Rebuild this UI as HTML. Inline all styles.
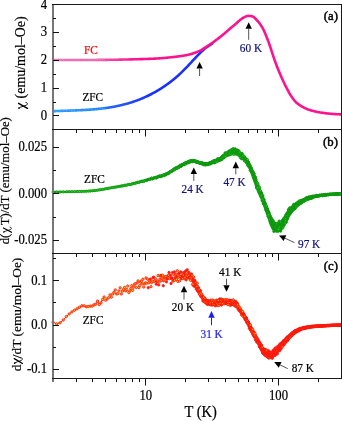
<!DOCTYPE html><html><head><meta charset="utf-8"><style>html,body{margin:0;padding:0;background:#fff;}body{width:342px;height:421px;overflow:hidden;font-family:"Liberation Serif",serif;}svg{display:block;will-change:transform}</style></head><body><svg width="342" height="421" viewBox="0 0 342 421" font-family='"Liberation Serif", serif'><rect width="342" height="421" fill="#fff"/><defs><linearGradient id="gfc" gradientUnits="userSpaceOnUse" x1="53" y1="0" x2="140" y2="0"><stop offset="0" stop-color="#f070b8"/><stop offset="0.45" stop-color="#f85aae"/><stop offset="1" stop-color="#ff1290"/></linearGradient><linearGradient id="gzfc" gradientUnits="userSpaceOnUse" x1="53" y1="0" x2="150" y2="0"><stop offset="0" stop-color="#3a9cff"/><stop offset="0.5" stop-color="#2a70ff"/><stop offset="1" stop-color="#1a30ff"/></linearGradient></defs><polyline points="53.00,111.20 53.50,111.18 54.00,111.16 54.50,111.14 55.00,111.12 55.50,111.10 56.00,111.08 56.50,111.06 57.00,111.04 57.50,111.02 58.00,111.00 58.50,110.98 59.00,110.97 59.50,110.95 60.00,110.93 60.50,110.91 61.00,110.90 61.50,110.88 62.00,110.86 62.50,110.85 63.00,110.83 63.50,110.81 64.00,110.80 64.50,110.78 65.00,110.76 65.50,110.75 66.00,110.73 66.50,110.72 67.00,110.70 67.50,110.68 68.00,110.67 68.50,110.65 69.00,110.63 69.50,110.62 70.00,110.60 70.50,110.58 71.00,110.57 71.50,110.55 72.00,110.53 72.50,110.51 73.00,110.50 73.50,110.48 74.00,110.46 74.50,110.44 75.00,110.42 75.50,110.40 76.00,110.38 76.50,110.36 77.00,110.34 77.50,110.32 78.00,110.30 78.50,110.28 79.00,110.26 79.50,110.24 80.00,110.21 80.50,110.19 81.00,110.17 81.50,110.14 82.00,110.12 82.50,110.09 83.00,110.07 83.50,110.04 84.00,110.01 84.50,109.99 85.00,109.96 85.50,109.93 86.00,109.90 86.50,109.87 87.00,109.84 87.50,109.81 88.00,109.78 88.50,109.74 89.00,109.71 89.50,109.67 90.00,109.64 90.50,109.60 91.00,109.57 91.50,109.53 92.00,109.49 92.50,109.45 93.00,109.41 93.50,109.37 94.00,109.33 94.50,109.28 95.00,109.24 95.50,109.19 96.00,109.15 96.50,109.10 97.00,109.05 97.50,109.00 98.00,108.95 98.50,108.90 99.00,108.85 99.50,108.80 100.00,108.74 100.50,108.69 101.00,108.63 101.50,108.57 102.00,108.51 102.50,108.45 103.00,108.39 103.50,108.33 104.00,108.26 104.50,108.20 105.00,108.13 105.50,108.06 106.00,107.99 106.50,107.92 107.00,107.85 107.50,107.78 108.00,107.70 108.50,107.63 109.00,107.55 109.50,107.47 110.00,107.39 110.50,107.31 111.00,107.22 111.50,107.14 112.00,107.05 112.50,106.97 113.00,106.88 113.50,106.78 114.00,106.69 114.50,106.60 115.00,106.50 115.50,106.40 116.00,106.30 116.50,106.20 117.00,106.10 117.50,106.00 118.00,105.89 118.50,105.78 119.00,105.67 119.50,105.56 120.00,105.45 120.50,105.33 121.00,105.22 121.50,105.10 122.00,104.98 122.50,104.86 123.00,104.73 123.50,104.61 124.00,104.48 124.50,104.35 125.00,104.22 125.50,104.08 126.00,103.95 126.50,103.81 127.00,103.67 127.50,103.53 128.00,103.38 128.50,103.24 129.00,103.09 129.50,102.94 130.00,102.78 130.50,102.63 131.00,102.47 131.50,102.31 132.00,102.15 132.50,101.99 133.00,101.82 133.50,101.66 134.00,101.49 134.50,101.31 135.00,101.14 135.50,100.96 136.00,100.78 136.50,100.60 137.00,100.42 137.50,100.23 138.00,100.04 138.50,99.85 139.00,99.66 139.50,99.46 140.00,99.27 140.50,99.06 141.00,98.86 141.50,98.66 142.00,98.45 142.50,98.24 143.00,98.02 143.50,97.81 144.00,97.59 144.50,97.37 145.00,97.14 145.50,96.92 146.00,96.69 146.50,96.46 147.00,96.22 147.50,95.98 148.00,95.74 148.50,95.50 149.00,95.26 149.50,95.01 150.00,94.76 150.50,94.50 151.00,94.25 151.50,93.99 152.00,93.72 152.50,93.46 153.00,93.19 153.50,92.92 154.00,92.65 154.50,92.37 155.00,92.09 155.50,91.81 156.00,91.52 156.50,91.23 157.00,90.94 157.50,90.65 158.00,90.35 158.50,90.05 159.00,89.74 159.50,89.44 160.00,89.13 160.50,88.81 161.00,88.50 161.50,88.18 162.00,87.85 162.50,87.53 163.00,87.20 163.50,86.87 164.00,86.53 164.50,86.19 165.00,85.85 165.50,85.50 166.00,85.15 166.50,84.80 167.00,84.45 167.50,84.09 168.00,83.72 168.50,83.36 169.00,82.99 169.50,82.62 170.00,82.24 170.50,81.86 171.00,81.48 171.50,81.09 172.00,80.70 172.50,80.30 173.00,79.90 173.50,79.50 174.00,79.09 174.50,78.68 175.00,78.26 175.50,77.84 176.00,77.41 176.50,76.98 177.00,76.55 177.50,76.11 178.00,75.66 178.50,75.21 179.00,74.76 179.50,74.30 180.00,73.84 180.50,73.37 181.00,72.89 181.50,72.41 182.00,71.93 182.50,71.44 183.00,70.94 183.50,70.44 184.00,69.94 184.50,69.43 185.00,68.92 185.50,68.40 186.00,67.88 186.50,67.36 187.00,66.83 187.50,66.30 188.00,65.77 188.50,65.24 189.00,64.70 189.50,64.17 190.00,63.63 190.50,63.09 191.00,62.56 191.50,62.02 192.00,61.48 192.50,60.94 193.00,60.41 193.50,59.87 194.00,59.34 194.50,58.80 195.00,58.27 195.50,57.74 196.00,57.22 196.50,56.69 197.00,56.17 197.50,55.66 198.00,55.14 198.50,54.63 199.00,54.13 199.50,53.62 200.00,53.13 200.50,52.63 201.00,52.14 201.50,51.66 202.00,51.18 202.50,50.70 203.00,50.23 203.50,49.77 204.00,49.31 204.50,48.85 205.00,48.40 205.50,47.99 206.00,47.67 206.50,47.36 207.00,47.04 207.50,46.72 208.00,46.41 208.50,46.08 209.00,45.76 209.50,45.43 210.00,45.10 210.50,44.76 211.00,44.42 211.50,44.08 212.00,43.74 212.50,43.39 213.00,43.04" fill="none" stroke="url(#gzfc)" stroke-width="2.6"/><g fill="#10d0ff"><circle cx="53.00" cy="111.20" r="0.6"/><circle cx="56.63" cy="111.05" r="0.6"/><circle cx="60.04" cy="110.93" r="0.6"/><circle cx="63.26" cy="110.82" r="0.6"/><circle cx="66.31" cy="110.72" r="0.6"/><circle cx="69.20" cy="110.63" r="0.6"/><circle cx="71.96" cy="110.53" r="0.6"/><circle cx="74.59" cy="110.44" r="0.6"/><circle cx="77.11" cy="110.34" r="0.6"/><circle cx="79.52" cy="110.24" r="0.6"/><circle cx="81.83" cy="110.13" r="0.6"/><circle cx="84.06" cy="110.01" r="0.6"/><circle cx="86.20" cy="109.89" r="0.6"/><circle cx="88.27" cy="109.76" r="0.6"/><circle cx="90.26" cy="109.62" r="0.6"/><circle cx="92.19" cy="109.48" r="0.6"/><circle cx="94.05" cy="109.32" r="0.6"/><circle cx="95.86" cy="109.16" r="0.6"/><circle cx="97.61" cy="108.99" r="0.6"/><circle cx="99.31" cy="108.82" r="0.6"/><circle cx="100.96" cy="108.63" r="0.6"/><circle cx="102.56" cy="108.44" r="0.6"/><circle cx="104.12" cy="108.25" r="0.6"/></g><polyline points="53.00,60.00 53.50,60.00 54.00,60.00 54.50,60.00 55.00,60.00 55.50,60.00 56.00,60.00 56.50,60.00 57.00,60.00 57.50,60.00 58.00,60.00 58.50,60.00 59.00,60.00 59.50,60.00 60.00,60.00 60.50,60.00 61.00,60.00 61.50,60.00 62.00,60.00 62.50,60.00 63.00,60.00 63.50,60.00 64.00,60.00 64.50,60.00 65.00,60.00 65.50,60.00 66.00,60.00 66.50,60.00 67.00,60.00 67.50,60.00 68.00,60.00 68.50,60.00 69.00,60.00 69.50,60.00 70.00,60.00 70.50,60.00 71.00,60.00 71.50,60.00 72.00,60.00 72.50,60.00 73.00,60.00 73.50,60.00 74.00,60.00 74.50,60.00 75.00,60.00 75.50,60.00 76.00,60.00 76.50,60.00 77.00,60.00 77.50,60.00 78.00,60.00 78.50,60.00 79.00,60.00 79.50,60.00 80.00,60.00 80.50,60.00 81.00,60.00 81.50,60.00 82.00,60.00 82.50,60.00 83.00,60.00 83.50,60.00 84.00,60.00 84.50,59.99 85.00,59.99 85.50,59.99 86.00,59.99 86.50,59.99 87.00,59.99 87.50,59.98 88.00,59.98 88.50,59.98 89.00,59.98 89.50,59.97 90.00,59.97 90.50,59.97 91.00,59.97 91.50,59.96 92.00,59.96 92.50,59.96 93.00,59.95 93.50,59.95 94.00,59.95 94.50,59.94 95.00,59.94 95.50,59.94 96.00,59.93 96.50,59.93 97.00,59.92 97.50,59.92 98.00,59.92 98.50,59.91 99.00,59.91 99.50,59.90 100.00,59.90 100.50,59.89 101.00,59.89 101.50,59.88 102.00,59.88 102.50,59.87 103.00,59.87 103.50,59.87 104.00,59.86 104.50,59.86 105.00,59.85 105.50,59.85 106.00,59.84 106.50,59.84 107.00,59.83 107.50,59.83 108.00,59.82 108.50,59.82 109.00,59.81 109.50,59.81 110.00,59.80 110.50,59.79 111.00,59.79 111.50,59.78 112.00,59.78 112.50,59.77 113.00,59.76 113.50,59.75 114.00,59.75 114.50,59.74 115.00,59.73 115.50,59.72 116.00,59.71 116.50,59.70 117.00,59.69 117.50,59.69 118.00,59.68 118.50,59.67 119.00,59.65 119.50,59.64 120.00,59.63 120.50,59.62 121.00,59.61 121.50,59.60 122.00,59.59 122.50,59.58 123.00,59.57 123.50,59.56 124.00,59.54 124.50,59.53 125.00,59.52 125.50,59.51 126.00,59.50 126.50,59.48 127.00,59.47 127.50,59.46 128.00,59.45 128.50,59.44 129.00,59.42 129.50,59.41 130.00,59.40 130.50,59.39 131.00,59.38 131.50,59.36 132.00,59.35 132.50,59.34 133.00,59.33 133.50,59.32 134.00,59.31 134.50,59.29 135.00,59.28 135.50,59.27 136.00,59.26 136.50,59.25 137.00,59.23 137.50,59.22 138.00,59.21 138.50,59.20 139.00,59.18 139.50,59.17 140.00,59.16 140.50,59.14 141.00,59.13 141.50,59.12 142.00,59.10 142.50,59.09 143.00,59.07 143.50,59.06 144.00,59.05 144.50,59.03 145.00,59.01 145.50,59.00 146.00,58.98 146.50,58.97 147.00,58.95 147.50,58.93 148.00,58.92 148.50,58.90 149.00,58.88 149.50,58.86 150.00,58.84 150.50,58.82 151.00,58.80 151.50,58.78 152.00,58.76 152.50,58.74 153.00,58.72 153.50,58.70 154.00,58.67 154.50,58.65 155.00,58.62 155.50,58.59 156.00,58.57 156.50,58.54 157.00,58.51 157.50,58.47 158.00,58.44 158.50,58.41 159.00,58.37 159.50,58.34 160.00,58.30 160.50,58.26 161.00,58.22 161.50,58.18 162.00,58.14 162.50,58.10 163.00,58.06 163.50,58.01 164.00,57.97 164.50,57.92 165.00,57.88 165.50,57.83 166.00,57.78 166.50,57.73 167.00,57.68 167.50,57.63 168.00,57.58 168.50,57.53 169.00,57.48 169.50,57.43 170.00,57.37 170.50,57.32 171.00,57.27 171.50,57.21 172.00,57.16 172.50,57.10 173.00,57.04 173.50,56.99 174.00,56.93 174.50,56.87 175.00,56.81 175.50,56.75 176.00,56.70 176.50,56.64 177.00,56.58 177.50,56.52 178.00,56.45 178.50,56.39 179.00,56.32 179.50,56.26 180.00,56.19 180.50,56.12 181.00,56.05 181.50,55.97 182.00,55.90 182.50,55.82 183.00,55.74 183.50,55.66 184.00,55.57 184.50,55.48 185.00,55.39 185.50,55.30 186.00,55.21 186.50,55.11 187.00,55.01 187.50,54.91 188.00,54.81 188.50,54.70 189.00,54.59 189.50,54.46 190.00,54.33 190.50,54.19 191.00,54.04 191.50,53.89 192.00,53.73 192.50,53.57 193.00,53.41 193.50,53.24 194.00,53.07 194.50,52.90 195.00,52.72 195.50,52.55 196.00,52.37 196.50,52.18 197.00,51.99 197.50,51.80 198.00,51.60 198.50,51.39 199.00,51.17 199.50,50.94 200.00,50.70 200.50,50.44 201.00,50.17 201.50,49.87 202.00,49.56 202.50,49.24 203.00,48.91 203.50,48.58 204.00,48.25 204.50,47.92 205.00,47.60 205.50,47.29 206.00,46.97 206.50,46.66 207.00,46.34 207.50,46.02 208.00,45.71 208.50,45.38 209.00,45.06 209.50,44.73 210.00,44.40 210.50,44.06 211.00,43.72 211.50,43.38 212.00,43.04 212.50,42.69 213.00,42.34 213.50,41.98 214.00,41.62 214.50,41.26 215.00,40.90 215.50,40.53 216.00,40.16 216.50,39.79 217.00,39.42 217.50,39.04 218.00,38.66 218.50,38.27 219.00,37.88 219.50,37.49 220.00,37.10 220.50,36.70 221.00,36.30 221.50,35.90 222.00,35.50 222.50,35.09 223.00,34.68 223.50,34.26 224.00,33.84 224.50,33.42 225.00,33.00 225.50,32.57 226.00,32.13 226.50,31.69 227.00,31.25 227.50,30.80 228.00,30.35 228.50,29.91 229.00,29.47 229.50,29.03 230.00,28.60 230.50,28.18 231.00,27.77 231.50,27.36 232.00,26.95 232.50,26.55 233.00,26.15 233.50,25.74 234.00,25.33 234.50,24.92 235.00,24.50 235.50,24.07 236.00,23.62 236.50,23.17 237.00,22.71 237.50,22.25 238.00,21.80 238.50,21.35 239.00,20.92 239.50,20.50 240.00,20.10 240.50,19.71 241.00,19.31 241.50,18.92 242.00,18.55 242.50,18.19 243.00,17.85 243.50,17.56 244.00,17.30 244.50,17.06 245.00,16.82 245.50,16.58 246.00,16.37 246.50,16.18 247.00,16.03 247.50,15.93 248.00,15.90 248.50,15.91 249.00,15.93 249.50,15.97 250.00,16.01 250.50,16.07 251.00,16.14 251.50,16.22 252.00,16.30 252.50,16.43 253.00,16.65 253.50,16.95 254.00,17.32 254.50,17.74 255.00,18.21 255.50,18.71 256.00,19.24 256.50,19.79 257.00,20.34 257.50,20.89 258.00,21.43 258.50,22.00 259.00,22.61 259.50,23.25 260.00,23.93 260.50,24.65 261.00,25.40 261.50,26.18 262.00,27.00 262.50,27.85 263.00,28.74 263.50,29.71 264.00,30.74 264.50,31.84 265.00,32.99 265.50,34.18 266.00,35.41 266.50,36.66 267.00,37.94 267.50,39.23 268.00,40.52 268.50,41.88 269.00,43.29 269.50,44.74 270.00,46.21 270.50,47.69 271.00,49.22 271.50,50.78 272.00,52.35 272.50,53.91 273.00,55.44 273.50,56.93 274.00,58.35 274.50,59.75 275.00,61.13 275.50,62.50 276.00,63.84 276.50,65.17 277.00,66.47 277.50,67.76 278.00,69.03 278.50,70.27 279.00,71.50 279.50,72.70 280.00,73.88 280.50,75.05 281.00,76.20 281.50,77.34 282.00,78.46 282.50,79.56 283.00,80.64 283.50,81.71 284.00,82.76 284.50,83.79 285.00,84.80 285.50,85.80 286.00,86.79 286.50,87.78 287.00,88.76 287.50,89.72 288.00,90.68 288.50,91.61 289.00,92.51 289.50,93.39 290.00,94.24 290.50,95.04 291.00,95.81 291.50,96.53 292.00,97.25 292.50,97.95 293.00,98.63 293.50,99.30 294.00,99.94 294.50,100.56 295.00,101.15 295.50,101.70 296.00,102.22 296.50,102.69 297.00,103.12 297.50,103.51 298.00,103.90 298.50,104.27 299.00,104.63 299.50,104.98 300.00,105.32 300.50,105.65 301.00,105.97 301.50,106.28 302.00,106.58 302.50,106.87 303.00,107.15 303.50,107.42 304.00,107.68 304.50,107.93 305.00,108.17 305.50,108.40 306.00,108.62 306.50,108.84 307.00,109.04 307.50,109.24 308.00,109.42 308.50,109.60 309.00,109.77 309.50,109.93 310.00,110.09 310.50,110.24 311.00,110.39 311.50,110.54 312.00,110.68 312.50,110.81 313.00,110.95 313.50,111.08 314.00,111.20 314.50,111.32 315.00,111.44 315.50,111.55 316.00,111.66 316.50,111.77 317.00,111.87 317.50,111.97 318.00,112.07 318.50,112.16 319.00,112.25 319.50,112.33 320.00,112.42 320.50,112.50 321.00,112.58 321.50,112.66 322.00,112.73 322.50,112.81 323.00,112.88 323.50,112.95 324.00,113.02 324.50,113.09 325.00,113.16 325.50,113.22 326.00,113.29 326.50,113.35 327.00,113.41 327.50,113.47 328.00,113.52 328.50,113.57 329.00,113.63 329.50,113.67 330.00,113.72 330.50,113.77 331.00,113.81 331.50,113.85 332.00,113.89 332.50,113.92 333.00,113.96 333.50,113.99 334.00,114.02 334.50,114.06 335.00,114.09 335.50,114.12 336.00,114.15 336.50,114.18 337.00,114.21 337.50,114.23 338.00,114.26 338.50,114.28 339.00,114.30 339.50,114.33 340.00,114.34 340.50,114.36 341.00,114.38" fill="none" stroke="url(#gfc)" stroke-width="2.6"/><g fill="#c9a6ba"><circle cx="53.00" cy="60.00" r="0.6"/><circle cx="56.63" cy="60.00" r="0.6"/><circle cx="60.04" cy="60.00" r="0.6"/><circle cx="63.26" cy="60.00" r="0.6"/><circle cx="66.31" cy="60.00" r="0.6"/><circle cx="69.20" cy="60.00" r="0.6"/><circle cx="71.96" cy="60.00" r="0.6"/><circle cx="74.59" cy="60.00" r="0.6"/><circle cx="77.11" cy="60.00" r="0.6"/><circle cx="79.52" cy="60.00" r="0.6"/><circle cx="81.83" cy="60.00" r="0.6"/><circle cx="84.06" cy="59.99" r="0.6"/><circle cx="86.20" cy="59.99" r="0.6"/><circle cx="88.27" cy="59.98" r="0.6"/><circle cx="90.26" cy="59.97" r="0.6"/><circle cx="92.19" cy="59.96" r="0.6"/><circle cx="94.05" cy="59.95" r="0.6"/><circle cx="95.86" cy="59.93" r="0.6"/><circle cx="97.61" cy="59.92" r="0.6"/><circle cx="99.31" cy="59.90" r="0.6"/><circle cx="100.96" cy="59.89" r="0.6"/><circle cx="102.56" cy="59.87" r="0.6"/><circle cx="104.12" cy="59.86" r="0.6"/></g><polygon points="53.5,192.00 54.0,192.00 54.5,191.99 55.0,191.99 55.5,191.98 56.0,191.98 56.5,191.98 57.0,191.97 57.5,191.97 58.0,191.96 58.5,191.95 59.0,191.95 59.5,191.94 60.0,191.93 60.5,191.93 61.0,191.92 61.5,191.91 62.0,191.90 62.5,191.89 63.0,191.89 63.5,191.88 64.0,191.87 64.5,191.86 65.0,191.85 65.5,191.84 66.0,191.83 66.5,191.82 67.0,191.81 67.5,191.80 68.0,191.79 68.5,191.78 69.0,191.77 69.5,191.76 70.0,191.74 70.5,191.73 71.0,191.72 71.5,191.71 72.0,191.70 72.5,191.69 73.0,191.68 73.5,191.66 74.0,191.65 74.5,191.64 75.0,191.63 75.5,191.61 76.0,191.60 76.5,191.59 77.0,191.57 77.5,191.56 78.0,191.54 78.5,191.52 79.0,191.51 79.5,191.49 80.0,191.47 80.5,191.46 81.0,191.44 81.5,191.42 82.0,191.40 82.5,191.38 83.0,191.36 83.5,191.34 84.0,191.32 84.5,191.29 85.0,191.27 85.5,191.25 86.0,191.22 86.5,191.20 87.0,191.17 87.5,191.14 88.0,191.12 88.5,191.09 89.0,191.06 89.5,191.03 90.0,191.00 90.5,190.97 91.0,190.93 91.5,190.89 92.0,190.84 92.5,190.79 93.0,190.74 93.5,190.69 94.0,190.63 94.5,190.57 95.0,190.50 95.5,190.44 96.0,190.37 96.5,190.30 97.0,190.23 97.5,190.16 98.0,190.09 98.5,190.02 99.0,189.94 99.5,189.87 100.0,189.80 100.5,189.73 101.0,189.65 101.5,189.57 102.0,189.48 102.5,189.40 103.0,189.31 103.5,189.22 104.0,189.13 104.5,189.03 105.0,188.94 105.5,188.84 106.0,188.75 106.5,188.65 107.0,188.55 107.5,188.46 108.0,188.36 108.5,188.27 109.0,188.18 109.5,188.08 110.0,188.00 110.5,187.91 111.0,187.82 111.5,187.74 112.0,187.65 112.5,187.57 113.0,187.48 113.5,187.40 114.0,187.31 114.5,187.23 115.0,187.15 115.5,187.06 116.0,186.98 116.5,186.90 117.0,186.81 117.5,186.73 118.0,186.64 118.5,186.55 119.0,186.47 119.5,186.38 120.0,186.29 120.5,186.20 121.0,186.11 121.5,186.02 122.0,185.93 122.5,185.84 123.0,185.74 123.5,185.65 124.0,185.56 124.5,185.47 125.0,185.37 125.5,185.28 126.0,185.18 126.5,185.09 127.0,184.99 127.5,184.89 128.0,184.79 128.5,184.69 129.0,184.58 129.5,184.48 130.0,184.37 130.5,184.26 131.0,184.15 131.5,184.03 132.0,183.91 132.5,183.79 133.0,183.66 133.5,183.54 134.0,183.41 134.5,183.29 135.0,183.16 135.5,183.03 136.0,182.90 136.5,182.77 137.0,182.64 137.5,182.51 138.0,182.37 138.5,182.24 139.0,182.11 139.5,181.97 140.0,181.83 140.5,181.70 141.0,181.56 141.5,181.42 142.0,181.28 142.5,181.14 143.0,181.00 143.5,180.86 144.0,180.72 144.5,180.58 145.0,180.44 145.5,180.29 146.0,180.15 146.5,180.01 147.0,179.87 147.5,179.73 148.0,179.59 148.5,179.44 149.0,179.30 149.5,179.16 150.0,179.02 150.5,178.88 151.0,178.74 151.5,178.61 152.0,178.48 152.5,178.34 153.0,178.21 153.5,178.08 154.0,177.95 154.5,177.82 155.0,177.69 155.5,177.56 156.0,177.43 156.5,177.30 157.0,177.17 157.5,177.03 158.0,176.89 158.5,176.75 159.0,176.61 159.5,176.46 160.0,176.31 160.5,176.16 161.0,176.00 161.5,175.84 162.0,175.67 162.5,175.50 163.0,175.32 163.5,175.14 164.0,174.95 164.5,174.75 165.0,174.53 165.5,174.31 166.0,174.07 166.5,173.82 167.0,173.57 167.5,173.30 168.0,173.02 168.5,172.74 169.0,172.45 169.5,172.15 170.0,171.85 170.5,171.55 171.0,171.24 171.5,170.92 172.0,170.61 172.5,170.29 173.0,169.98 173.5,169.66 174.0,169.34 174.5,169.03 175.0,168.72 175.5,168.41 176.0,168.11 176.5,167.81 177.0,167.52 177.5,167.23 178.0,166.96 178.5,166.68 179.0,166.40 179.5,166.11 180.0,165.82 180.5,165.54 181.0,165.25 181.5,164.96 182.0,164.68 182.5,164.40 183.0,164.13 183.5,163.87 184.0,163.61 184.5,163.37 185.0,163.14 185.5,162.92 186.0,162.72 186.5,162.53 187.0,162.34 187.5,162.14 188.0,161.95 188.5,161.75 189.0,161.56 189.5,161.38 190.0,161.21 190.5,161.05 191.0,160.91 191.5,160.79 192.0,160.70 192.5,160.63 193.0,160.59 193.5,160.58 194.0,160.61 194.5,160.67 195.0,160.77 195.5,160.88 196.0,161.02 196.5,161.18 197.0,161.35 197.5,161.52 198.0,161.70 198.5,161.88 199.0,162.05 199.5,162.21 200.0,162.36 200.5,162.49 201.0,162.63 201.5,162.78 202.0,162.94 202.5,163.10 203.0,163.26 203.5,163.40 204.0,163.52 204.5,163.61 205.0,163.68 205.5,163.70 206.0,163.68 206.5,163.63 207.0,163.54 207.5,163.42 208.0,163.28 208.5,163.11 209.0,162.93 209.5,162.74 210.0,162.53 210.5,162.32 211.0,162.11 211.5,161.90 212.0,161.70 212.5,161.50 213.0,161.32 213.5,161.13 214.0,160.94 214.5,160.74 215.0,160.54 215.5,160.34 216.0,160.13 216.5,159.92 217.0,159.69 217.5,159.46 218.0,159.22 218.5,158.97 219.0,158.70 219.5,158.43 220.0,158.14 220.5,157.82 221.0,157.44 221.5,157.02 222.0,156.56 222.5,156.08 223.0,155.59 223.5,155.10 224.0,154.62 224.5,154.15 225.0,153.71 225.5,153.32 226.0,152.98 226.5,152.69 227.0,152.44 227.5,152.19 228.0,151.94 228.5,151.69 229.0,151.45 229.5,151.22 230.0,151.00 230.5,150.79 231.0,150.60 231.5,150.42 232.0,150.27 232.5,150.14 233.0,150.03 233.5,149.95 234.0,149.90 234.5,149.88 235.0,149.91 235.5,150.01 236.0,150.17 236.5,150.38 237.0,150.63 237.5,150.92 238.0,151.24 238.5,151.57 239.0,151.92 239.5,152.26 240.0,152.61 240.5,152.98 241.0,153.42 241.5,153.90 242.0,154.41 242.5,154.93 243.0,155.44 243.5,155.94 244.0,156.41 244.5,156.89 245.0,157.39 245.5,157.93 246.0,158.53 246.5,159.18 247.0,159.86 247.5,160.60 248.0,161.38 248.5,162.18 249.0,163.00 249.5,163.87 250.0,164.80 250.5,165.82 251.0,166.91 251.5,168.07 252.0,169.30 252.5,170.58 253.0,171.88 253.5,173.18 254.0,174.48 254.5,175.77 255.0,177.05 255.5,178.38 256.0,179.75 256.5,181.14 257.0,182.51 257.5,183.84 258.0,185.11 258.5,186.31 259.0,187.46 259.5,188.57 260.0,189.66 260.5,190.76 261.0,191.88 261.5,193.05 262.0,194.27 262.5,195.57 263.0,196.94 263.5,198.33 264.0,199.73 264.5,201.09 265.0,202.37 265.5,203.60 266.0,204.80 266.5,205.98 267.0,207.16 267.5,208.36 268.0,209.59 268.5,210.85 269.0,212.20 269.5,213.61 270.0,215.00 270.5,216.29 271.0,217.40 271.5,218.39 272.0,219.37 272.5,220.29 273.0,221.09 273.5,221.74 274.0,222.20 274.5,222.53 275.0,222.85 275.5,223.12 276.0,223.34 276.5,223.48 277.0,223.53 277.5,223.49 278.0,223.38 278.5,223.21 279.0,223.00 279.5,222.76 280.0,222.51 280.5,222.17 281.0,221.71 281.5,221.16 282.0,220.54 282.5,219.90 283.0,219.26 283.5,218.59 284.0,217.86 284.5,217.08 285.0,216.29 285.5,215.49 286.0,214.70 286.5,213.88 287.0,213.00 287.5,212.11 288.0,211.24 288.5,210.42 289.0,209.70 289.5,209.10 290.0,208.53 290.5,208.00 291.0,207.50 291.5,207.02 292.0,206.57 292.5,206.13 293.0,205.72 293.5,205.32 294.0,204.94 294.5,204.57 295.0,204.20 295.5,203.85 296.0,203.50 296.5,203.16 297.0,202.82 297.5,202.50 298.0,202.18 298.5,201.88 299.0,201.58 299.5,201.29 300.0,201.01 300.5,200.74 301.0,200.47 301.5,200.21 302.0,199.96 302.5,199.71 303.0,199.48 303.5,199.24 304.0,199.02 304.5,198.79 305.0,198.57 305.5,198.36 306.0,198.14 306.5,197.94 307.0,197.74 307.5,197.54 308.0,197.36 308.5,197.19 309.0,197.02 309.5,196.87 310.0,196.74 310.5,196.61 311.0,196.50 311.5,196.39 312.0,196.30 312.5,196.21 313.0,196.13 313.5,196.05 314.0,195.97 314.5,195.90 315.0,195.82 315.5,195.75 316.0,195.67 316.5,195.59 317.0,195.52 317.5,195.45 318.0,195.38 318.5,195.31 319.0,195.25 319.5,195.19 320.0,195.13 320.5,195.07 321.0,195.01 321.5,194.95 322.0,194.90 322.5,194.84 323.0,194.79 323.5,194.74 324.0,194.69 324.5,194.63 325.0,194.58 325.5,194.53 326.0,194.48 326.5,194.43 327.0,194.38 327.5,194.33 328.0,194.28 328.5,194.23 329.0,194.19 329.5,194.14 330.0,194.09 330.5,194.05 331.0,194.01 331.5,193.97 332.0,193.93 332.5,193.89 333.0,193.86 333.5,193.83 334.0,193.80 334.5,193.77 335.0,193.75 335.5,193.72 336.0,193.70 336.5,193.67 337.0,193.65 337.5,193.63 338.0,193.61 338.5,193.59 339.0,193.57 339.5,193.55 340.0,193.53 340.5,193.52 341.0,193.51 341.0,194.14 340.5,194.15 340.0,194.16 339.5,194.18 339.0,194.20 338.5,194.22 338.0,194.24 337.5,194.26 337.0,194.29 336.5,194.31 336.0,194.34 335.5,194.36 335.0,194.39 334.5,194.42 334.0,194.45 333.5,194.48 333.0,194.51 332.5,194.55 332.0,194.59 331.5,194.63 331.0,194.67 330.5,194.71 330.0,194.76 329.5,194.81 329.0,194.86 328.5,194.91 328.0,194.96 327.5,195.01 327.0,195.06 326.5,195.12 326.0,195.17 325.5,195.23 325.0,195.28 324.5,195.34 324.0,195.39 323.5,195.45 323.0,195.51 322.5,195.58 322.0,195.64 321.5,195.71 321.0,195.78 320.5,195.85 320.0,195.92 319.5,196.00 319.0,196.08 318.5,196.17 318.0,196.25 317.5,196.34 317.0,196.44 316.5,196.54 316.0,196.64 315.5,196.75 315.0,196.89 314.5,197.03 314.0,197.19 313.5,197.35 313.0,197.53 312.5,197.71 312.0,197.90 311.5,198.09 311.0,198.28 310.5,198.48 310.0,198.66 309.5,198.86 309.0,199.06 308.5,199.26 308.0,199.48 307.5,199.70 307.0,199.93 306.5,200.17 306.0,200.42 305.5,200.67 305.0,200.94 304.5,201.20 304.0,201.48 303.5,201.77 303.0,202.06 302.5,202.36 302.0,202.68 301.5,203.00 301.0,203.33 300.5,203.68 300.0,204.03 299.5,204.39 299.0,204.77 298.5,205.16 298.0,205.56 297.5,205.98 297.0,206.40 296.5,206.84 296.0,207.30 295.5,207.77 295.0,208.26 294.5,208.77 294.0,209.30 293.5,209.86 293.0,210.43 292.5,211.03 292.0,211.65 291.5,212.29 291.0,212.96 290.5,213.65 290.0,214.36 289.5,215.10 289.0,215.87 288.5,216.76 288.0,217.74 287.5,218.80 287.0,219.87 286.5,220.92 286.0,221.90 285.5,222.84 285.0,223.78 284.5,224.70 284.0,225.57 283.5,226.39 283.0,227.14 282.5,227.86 282.0,228.58 281.5,229.26 281.0,229.86 280.5,230.35 280.0,230.69 279.5,230.94 279.0,231.17 278.5,231.37 278.0,231.53 277.5,231.63 277.0,231.67 276.5,231.61 276.0,231.46 275.5,231.23 275.0,230.93 274.5,230.58 274.0,230.20 273.5,229.70 273.0,229.00 272.5,228.14 272.0,227.16 271.5,226.10 271.0,225.00 270.5,223.77 270.0,222.33 269.5,220.79 269.0,219.21 268.5,217.70 268.0,216.28 267.5,214.88 267.0,213.48 266.5,212.08 266.0,210.68 265.5,209.28 265.0,207.89 264.5,206.49 264.0,205.09 263.5,203.69 263.0,202.32 262.5,200.99 262.0,199.73 261.5,198.56 261.0,197.45 260.5,196.38 260.0,195.34 259.5,194.29 259.0,193.21 258.5,192.08 258.0,190.89 257.5,189.60 257.0,188.24 256.5,186.82 256.0,185.38 255.5,183.95 255.0,182.54 254.5,181.18 254.0,179.81 253.5,178.41 253.0,177.01 252.5,175.61 252.0,174.24 251.5,172.88 251.0,171.54 250.5,170.24 250.0,169.01 249.5,167.87 249.0,166.83 248.5,165.89 248.0,165.04 247.5,164.25 247.0,163.52 246.5,162.84 246.0,162.20 245.5,161.61 245.0,161.07 244.5,160.58 244.0,160.12 243.5,159.65 243.0,159.16 242.5,158.66 242.0,158.15 241.5,157.65 241.0,157.18 240.5,156.75 240.0,156.39 239.5,156.06 239.0,155.73 238.5,155.39 238.0,155.07 237.5,154.76 237.0,154.48 236.5,154.23 236.0,154.02 235.5,153.86 235.0,153.76 234.5,153.72 234.0,153.73 233.5,153.77 233.0,153.83 232.5,153.91 232.0,154.01 231.5,154.13 231.0,154.26 230.5,154.41 230.0,154.57 229.5,154.74 229.0,154.93 228.5,155.11 228.0,155.31 227.5,155.51 227.0,155.71 226.5,155.91 226.0,156.14 225.5,156.43 225.0,156.76 224.5,157.13 224.0,157.52 223.5,157.93 223.0,158.35 222.5,158.76 222.0,159.16 221.5,159.54 221.0,159.89 220.5,160.20 220.0,160.46 219.5,160.68 219.0,160.89 218.5,161.08 218.0,161.27 217.5,161.45 217.0,161.61 216.5,161.77 216.0,161.93 215.5,162.08 215.0,162.23 214.5,162.37 214.0,162.52 213.5,162.66 213.0,162.81 212.5,162.97 212.0,163.13 211.5,163.31 211.0,163.50 210.5,163.69 210.0,163.87 209.5,164.06 209.0,164.24 208.5,164.40 208.0,164.55 207.5,164.67 207.0,164.78 206.5,164.85 206.0,164.89 205.5,164.90 205.0,164.86 204.5,164.78 204.0,164.67 203.5,164.54 203.0,164.39 202.5,164.22 202.0,164.05 201.5,163.88 201.0,163.71 200.5,163.56 200.0,163.41 199.5,163.25 199.0,163.07 198.5,162.88 198.0,162.68 197.5,162.49 197.0,162.29 196.5,162.11 196.0,161.94 195.5,161.78 195.0,161.65 194.5,161.54 194.0,161.47 193.5,161.43 193.0,161.43 192.5,161.46 192.0,161.52 191.5,161.62 191.0,161.73 190.5,161.87 190.0,162.02 189.5,162.19 189.0,162.37 188.5,162.56 188.0,162.75 187.5,162.94 187.0,163.14 186.5,163.32 186.0,163.51 185.5,163.71 185.0,163.92 184.5,164.15 184.0,164.39 183.5,164.64 183.0,164.90 182.5,165.16 182.0,165.44 181.5,165.71 181.0,165.99 180.5,166.27 180.0,166.55 179.5,166.83 179.0,167.11 178.5,167.38 178.0,167.64 177.5,167.91 177.0,168.18 176.5,168.46 176.0,168.74 175.5,169.03 175.0,169.32 174.5,169.62 174.0,169.92 173.5,170.22 173.0,170.52 172.5,170.82 172.0,171.12 171.5,171.42 171.0,171.72 170.5,172.01 170.0,172.30 169.5,172.59 169.0,172.87 168.5,173.15 168.0,173.42 167.5,173.68 167.0,173.93 166.5,174.18 166.0,174.42 165.5,174.64 165.0,174.86 164.5,175.06 164.0,175.25 163.5,175.44 163.0,175.61 162.5,175.78 162.0,175.95 161.5,176.11 161.0,176.26 160.5,176.41 160.0,176.56 159.5,176.70 159.0,176.84 158.5,176.98 158.0,177.12 157.5,177.25 157.0,177.38 156.5,177.51 156.0,177.63 155.5,177.76 155.0,177.89 154.5,178.01 154.0,178.14 153.5,178.26 153.0,178.39 152.5,178.52 152.0,178.65 151.5,178.78 151.0,178.91 150.5,179.04 150.0,179.18 149.5,179.32 149.0,179.46 148.5,179.60 148.0,179.74 147.5,179.88 147.0,180.01 146.5,180.15 146.0,180.29 145.5,180.43 145.0,180.57 144.5,180.71 144.0,180.85 143.5,180.99 143.0,181.12 142.5,181.26 142.0,181.40 141.5,181.53 141.0,181.67 140.5,181.80 140.0,181.94 139.5,182.07 139.0,182.21 138.5,182.34 138.0,182.47 137.5,182.60 137.0,182.73 136.5,182.86 136.0,182.99 135.5,183.12 135.0,183.24 134.5,183.37 134.0,183.49 133.5,183.61 133.0,183.74 132.5,183.86 132.0,183.98 131.5,184.10 131.0,184.21 130.5,184.32 130.0,184.43 129.5,184.54 129.0,184.64 128.5,184.74 128.0,184.84 127.5,184.94 127.0,185.04 126.5,185.13 126.0,185.23 125.5,185.32 125.0,185.41 124.5,185.51 124.0,185.60 123.5,185.69 123.0,185.78 122.5,185.87 122.0,185.96 121.5,186.05 121.0,186.13 120.5,186.22 120.0,186.31 119.5,186.40 119.0,186.49 118.5,186.58 118.0,186.66 117.5,186.75 117.0,186.83 116.5,186.91 116.0,187.00 115.5,187.08 115.0,187.16 114.5,187.25 114.0,187.33 113.5,187.41 113.0,187.50 112.5,187.58 112.0,187.66 111.5,187.75 111.0,187.83 110.5,187.92 110.0,188.00 109.5,188.09 109.0,188.18 108.5,188.27 108.0,188.37 107.5,188.46 107.0,188.56 106.5,188.65 106.0,188.75 105.5,188.84 105.0,188.94 104.5,189.03 104.0,189.13 103.5,189.22 103.0,189.31 102.5,189.40 102.0,189.49 101.5,189.57 101.0,189.65 100.5,189.73 100.0,189.80 99.5,189.87 99.0,189.94 98.5,190.02 98.0,190.09 97.5,190.16 97.0,190.23 96.5,190.30 96.0,190.37 95.5,190.44 95.0,190.50 94.5,190.57 94.0,190.63 93.5,190.69 93.0,190.74 92.5,190.79 92.0,190.84 91.5,190.89 91.0,190.93 90.5,190.97 90.0,191.00 89.5,191.03 89.0,191.06 88.5,191.09 88.0,191.12 87.5,191.14 87.0,191.17 86.5,191.20 86.0,191.22 85.5,191.25 85.0,191.27 84.5,191.29 84.0,191.32 83.5,191.34 83.0,191.36 82.5,191.38 82.0,191.40 81.5,191.42 81.0,191.44 80.5,191.46 80.0,191.47 79.5,191.49 79.0,191.51 78.5,191.52 78.0,191.54 77.5,191.56 77.0,191.57 76.5,191.59 76.0,191.60 75.5,191.61 75.0,191.63 74.5,191.64 74.0,191.65 73.5,191.66 73.0,191.68 72.5,191.69 72.0,191.70 71.5,191.71 71.0,191.72 70.5,191.73 70.0,191.74 69.5,191.76 69.0,191.77 68.5,191.78 68.0,191.79 67.5,191.80 67.0,191.81 66.5,191.82 66.0,191.83 65.5,191.84 65.0,191.85 64.5,191.86 64.0,191.87 63.5,191.88 63.0,191.89 62.5,191.89 62.0,191.90 61.5,191.91 61.0,191.92 60.5,191.93 60.0,191.93 59.5,191.94 59.0,191.95 58.5,191.95 58.0,191.96 57.5,191.97 57.0,191.97 56.5,191.98 56.0,191.98 55.5,191.98 55.0,191.99 54.5,191.99 54.0,192.00 53.5,192.00" fill="#0e980e" stroke="#0e980e" stroke-width="2.40" stroke-linejoin="round"/><polyline points="53.00,192.00 56.63,191.97 60.04,191.93 63.26,191.88 66.31,191.82 69.20,191.76 71.96,191.70 74.59,191.64 77.11,191.57 79.52,191.49 81.83,191.41 84.06,191.31 86.20,191.21 88.27,191.10 90.26,190.98 92.19,190.82 94.05,190.62 95.86,190.39 97.61,190.15 99.31,189.90 100.96,189.65 102.56,189.38 104.12,189.11 105.64,188.82 107.12,188.54 108.57,188.25 109.98,188.08 111.35,187.75 112.69,187.48 114.01,187.16 115.29,187.18 116.54,186.97 117.77,186.72 118.97,186.44 120.15,186.15 121.31,185.92 122.44,186.07 123.55,185.69 124.64,185.32 125.71,185.18 126.75,185.22 127.78,184.76 128.80,184.39 129.79,184.38 130.77,184.50 131.73,184.03 132.68,183.77 133.61,183.26 134.52,183.45 135.42,182.94 136.31,182.92 137.19,182.26 138.05,182.23 138.89,182.38 139.73,182.00 140.55,181.52 141.37,181.18 142.17,181.45 142.96,180.99 143.74,181.51 144.51,180.83 145.26,180.55 146.01,180.09 146.75,180.45 147.48,179.77 148.20,179.58 148.92,179.06 149.62,179.57 150.31,178.84 151.00,178.98 151.68,177.92 152.35,178.98 153.01,178.31 153.67,177.96 154.31,177.61 154.96,177.85 155.59,177.36 156.22,178.15 156.84,177.48 157.45,176.66 158.06,176.18 158.66,176.74 159.25,176.16 159.84,175.78 160.42,176.79 161.00,176.21 161.57,175.57 162.13,175.88 162.69,176.07 163.25,174.88 163.80,174.57 164.34,175.66 164.88,175.18 165.41,174.07 165.94,174.10 166.46,174.60 166.98,173.60 167.50,173.43 168.01,172.97 168.51,173.72 169.02,172.54 169.51,172.32 170.01,171.62 170.49,172.09 170.98,171.80 171.46,170.92 171.93,170.51 172.41,171.04 172.88,170.25 173.34,169.70 173.80,168.82 174.26,169.85 174.71,169.62 175.16,168.40 175.61,167.70 176.05,168.40 176.49,168.06 176.93,167.25 177.36,168.42 177.79,167.82 178.22,167.30 178.64,166.25 179.06,167.54 179.48,166.45 179.90,166.29 180.31,165.09 180.72,166.49 181.12,166.20 181.53,165.45 181.93,164.44 182.32,164.55 182.72,165.11 183.11,164.22 183.50,164.11 183.89,163.55 184.27,164.71 184.65,163.77 185.03,163.57 185.41,162.51 185.78,164.10 186.15,162.88 186.52,162.41 186.89,162.32 187.25,162.90 187.62,162.43 187.98,161.82 188.33,161.31 188.69,162.78 189.04,161.75 189.39,161.97 189.74,160.98 190.09,160.77 190.44,161.67 190.78,161.84 191.12,160.87 191.46,160.52 191.80,160.75 192.13,161.82 192.46,160.95 192.80,160.54 193.12,160.86 193.45,161.26 193.78,161.18 194.10,160.51 194.42,160.68 194.74,160.96 195.06,160.93 195.38,161.98 195.69,161.71 196.01,161.14 196.32,161.28 196.63,162.30 196.94,162.35 197.24,161.74 197.55,161.89 197.85,162.49 198.15,162.61 198.45,162.58 198.75,161.83 199.05,162.99 199.35,162.60 199.65,162.84 199.95,162.51 200.25,163.51 200.55,163.45 200.85,163.15 201.15,162.69 201.45,163.46 201.75,163.74 202.05,162.89 202.35,162.73 202.65,164.02 202.95,164.26 203.25,163.75 203.55,163.33 203.85,164.86 204.15,164.24 204.45,163.87 204.75,163.48 205.05,164.91 205.35,164.85 205.65,164.45 205.95,163.59 206.25,164.43 206.55,163.64 206.85,164.93 207.15,164.01 207.45,163.61 207.75,163.86 208.05,164.43 208.35,164.53 208.65,163.34 208.95,163.35 209.25,163.70 209.55,163.40 209.85,162.68 210.15,162.82 210.45,164.04 210.75,162.99 211.05,162.19 211.35,162.18 211.65,163.07 211.95,162.12 212.25,161.80 212.55,162.82 212.85,162.07 213.15,161.79 213.45,160.74 213.75,160.69 214.05,162.89 214.35,161.47 214.65,160.98 214.95,160.53 215.25,162.34 215.55,161.85 215.85,160.42 216.15,160.04 216.45,162.02 216.75,160.50 217.05,159.96 217.35,158.75 217.65,160.69 217.95,159.85 218.25,158.69 218.55,160.19 218.85,160.07 219.15,159.39 219.45,159.87 219.75,160.00 220.05,158.34 220.35,158.67 220.65,159.19 220.95,159.93 221.25,158.29 221.55,157.35 221.85,159.49 222.15,158.19 222.45,157.51 222.75,155.68 223.05,157.92 223.35,156.28 223.65,155.46 223.95,155.68 224.25,157.72 224.55,155.85 224.85,155.55 225.15,152.75 225.45,155.71 225.75,156.32 226.05,154.53 226.35,153.62 226.65,154.61 226.95,155.52 227.25,152.84 227.55,152.50 227.85,155.19 228.15,153.55 228.45,153.24 228.75,151.30 229.05,154.53 229.35,154.88 229.65,151.53 229.95,150.47 230.25,154.27 230.55,152.61 230.85,151.09 231.15,149.68 231.45,153.23 231.75,154.02 232.05,151.74 232.35,149.02 232.65,153.71 232.95,151.26 233.25,152.37 233.55,148.58 233.85,154.41 234.15,151.71 234.45,151.10 234.75,151.39 235.05,150.92 235.35,148.85 235.65,154.03 235.95,152.16 236.25,152.34 236.55,151.42 236.85,153.05 237.15,152.39 237.45,149.95 237.75,154.50 238.05,153.41 238.35,153.33 238.65,150.67 238.95,154.40 239.25,153.64 239.55,154.79 239.85,152.17 240.15,157.56 240.45,154.47 240.75,154.57 241.05,153.44 241.35,158.72 241.65,155.42 241.95,155.12 242.25,153.45 242.55,156.15 242.85,155.47 243.15,157.91 243.45,157.28 243.75,157.07 244.05,156.01 244.35,160.98 244.65,159.18 244.95,158.37 245.25,158.97 245.55,160.82 245.85,160.57 246.15,161.18 246.45,159.86 246.75,163.18 247.05,160.21 247.35,159.48 247.65,165.49 247.95,164.81 248.25,161.89 248.55,162.34 248.85,166.85 249.15,164.80 249.45,164.91 249.75,165.72 250.05,170.29 250.35,167.93 250.65,167.41 250.95,167.91 251.25,171.56 251.55,170.05 251.85,171.56 252.15,170.58 252.45,172.74 252.75,172.29 253.05,171.83 253.35,176.52 253.65,177.73 253.95,175.44 254.25,173.63 254.55,180.04 254.85,180.64 255.15,178.02 255.45,176.89 255.75,179.83 256.05,179.36 256.35,187.89 256.65,185.33 256.95,185.23 257.25,182.82 257.55,187.90 257.85,185.55 258.15,184.06 258.45,191.34 258.75,191.48 259.05,188.56 259.35,190.23 259.65,187.34 259.95,191.71 260.25,190.61 260.55,192.85 260.85,195.12 261.15,196.50 261.45,195.35 261.75,193.08 262.05,200.72 262.35,198.75 262.65,199.40 262.95,195.75 263.25,203.73 263.55,200.70 263.85,202.55 264.15,199.55 264.45,205.26 264.75,203.36 265.05,203.30 265.35,203.65 265.65,208.56 265.95,210.26 266.25,205.84 266.55,208.64 266.85,209.06 267.15,210.00 267.45,208.98 267.75,210.99 268.05,216.29 268.35,216.35 268.65,214.67 268.95,212.44 269.25,217.29 269.55,219.18 269.85,215.95 270.15,216.16 270.45,222.02 270.75,220.00 271.05,222.66 271.35,218.49 271.65,220.32 271.95,218.97 272.25,224.65 272.55,225.64 272.85,222.88 273.15,220.60 273.45,223.24 273.75,231.50 274.05,225.58 274.35,223.68 274.65,225.37 274.95,228.59 275.25,227.01 275.55,223.99 275.85,226.29 276.15,226.55 276.45,226.86 276.75,223.78 277.05,229.84 277.35,228.51 277.65,224.98 277.95,222.99 278.25,230.82 278.55,229.37 278.85,223.99 279.15,220.98 279.45,227.58 279.75,226.26 280.05,225.28 280.35,221.96 280.65,231.23 280.95,224.96 281.25,225.10 281.55,223.78 281.85,225.99 282.15,226.92 282.45,221.53 282.75,221.43 283.05,227.89 283.35,224.53 283.65,221.28 283.95,218.44 284.25,224.54 284.55,220.76 284.85,219.40 285.15,223.38 285.45,220.25 285.75,217.97 286.05,214.61 286.35,222.13 286.65,217.26 286.95,213.30 287.25,215.26 287.55,218.78 287.85,216.90 288.15,215.04 288.45,209.44 288.75,214.25 289.05,212.71 289.35,212.46 289.65,207.70 289.95,213.75 290.25,210.37 290.55,210.31 290.85,209.21 291.15,208.62 291.45,207.87 291.75,209.81 292.05,209.28 292.35,208.23 292.65,207.29 292.95,207.46 293.25,208.37 293.55,204.36 293.85,209.30 294.15,208.86 294.45,205.88 294.75,205.83 295.05,208.67 295.35,207.69 295.65,204.20 295.95,203.38 296.25,206.74 296.55,206.15 296.85,205.35 297.15,202.60 297.45,205.64 297.75,204.51 298.05,203.18 298.35,203.19 298.65,202.96 298.95,201.04 299.25,204.07 299.55,203.34 299.85,203.06 300.15,200.63 300.45,203.02 300.75,203.19 301.05,201.03 301.35,200.35 301.65,201.83 301.95,202.46 302.25,201.20 302.55,200.54 302.85,201.59 303.15,200.15 303.45,199.61 303.75,201.02 304.05,201.22 304.35,199.47 304.65,199.62 304.95,198.98 305.25,199.87 305.55,199.80 305.85,199.05 306.15,198.54 306.45,197.79 306.75,197.40 307.05,198.39 307.35,198.13 307.65,199.21 307.95,199.01 308.25,197.38 308.55,196.94 308.85,199.06 309.15,198.50 309.45,197.90 309.75,196.89 310.05,198.18 310.35,197.41 310.65,197.00 310.95,197.10 311.25,198.47 311.55,197.51 311.85,197.08 312.15,196.06 312.45,197.87 312.75,197.44 313.05,196.82 313.35,196.21 313.65,196.74 313.95,196.24 314.25,196.67 314.55,196.66 314.85,196.21 315.15,196.06 315.45,196.57 315.75,196.36 316.05,196.28 316.35,195.44 316.65,196.53 316.95,196.00 317.25,195.83 317.55,195.61 317.85,196.29 318.15,195.97 318.45,195.67 318.75,195.37 319.05,195.76 319.35,195.93 319.65,195.26 319.95,195.02 320.25,195.80 320.55,195.46 320.85,195.42 321.15,195.00 321.45,195.48 321.75,195.10 322.05,195.09 322.35,195.75 322.65,195.46 322.95,195.18 323.25,194.71 323.55,195.57 323.85,195.10 324.15,195.02 324.45,194.85 324.75,195.31 325.05,194.88 325.35,194.91 325.65,194.41 325.95,194.69 326.25,195.22 326.55,194.72 326.85,194.75 327.15,194.52 327.45,194.59 327.75,194.30 328.05,194.82 328.35,194.83 328.65,194.54 328.95,194.14 329.25,194.36 329.55,194.03 329.85,194.71 330.15,194.48 330.45,194.30 330.75,194.02 331.05,194.52 331.35,194.58 331.65,194.40 331.95,194.07 332.25,194.16 332.55,194.09 332.85,193.96 333.15,194.28 333.45,194.10 333.75,194.24 334.05,193.74 334.35,194.34 334.65,194.26 334.95,194.10 335.25,193.82 335.55,194.49 335.85,193.93 336.15,193.82 336.45,193.62 336.75,194.33 337.05,194.13 337.35,193.82 337.65,193.61 337.95,194.00 338.25,193.99 338.55,193.88 338.85,193.48 339.15,194.04 339.45,194.15 339.75,193.59 340.05,193.72 340.35,194.03 340.65,193.97 340.95,193.68" fill="none" stroke="#0e980e" stroke-width="1.0"/><g fill="#34e034" stroke="#0e980e" stroke-width="0.9"><circle cx="53.00" cy="192.00" r="1.05"/><circle cx="56.63" cy="191.97" r="1.05"/><circle cx="60.04" cy="191.93" r="1.05"/><circle cx="63.26" cy="191.88" r="1.05"/><circle cx="66.31" cy="191.82" r="1.05"/><circle cx="69.20" cy="191.76" r="1.05"/><circle cx="71.96" cy="191.70" r="1.05"/><circle cx="74.59" cy="191.64" r="1.05"/><circle cx="77.11" cy="191.57" r="1.05"/><circle cx="79.52" cy="191.49" r="1.05"/><circle cx="81.83" cy="191.41" r="1.05"/><circle cx="84.06" cy="191.31" r="1.05"/><circle cx="86.20" cy="191.21" r="1.05"/><circle cx="88.27" cy="191.10" r="1.05"/><circle cx="90.26" cy="190.98" r="1.05"/><circle cx="92.19" cy="190.82" r="1.05"/><circle cx="94.05" cy="190.62" r="1.05"/><circle cx="95.86" cy="190.39" r="1.05"/><circle cx="97.61" cy="190.15" r="1.05"/><circle cx="99.31" cy="189.90" r="1.05"/><circle cx="100.96" cy="189.65" r="1.05"/><circle cx="102.56" cy="189.38" r="1.05"/><circle cx="104.12" cy="189.11" r="1.05"/><circle cx="105.64" cy="188.82" r="1.05"/><circle cx="107.12" cy="188.54" r="1.05"/><circle cx="108.57" cy="188.25" r="1.05"/><circle cx="109.98" cy="188.08" r="1.05"/><circle cx="111.35" cy="187.75" r="1.05"/><circle cx="112.69" cy="187.48" r="1.05"/><circle cx="114.01" cy="187.16" r="1.05"/><circle cx="115.29" cy="187.18" r="1.05"/><circle cx="116.54" cy="186.97" r="1.05"/><circle cx="117.77" cy="186.72" r="1.05"/><circle cx="118.97" cy="186.44" r="1.05"/><circle cx="120.15" cy="186.15" r="1.05"/><circle cx="121.31" cy="185.92" r="1.05"/><circle cx="122.44" cy="186.07" r="1.05"/><circle cx="123.55" cy="185.69" r="1.05"/><circle cx="124.64" cy="185.32" r="1.05"/><circle cx="125.71" cy="185.18" r="1.05"/><circle cx="126.75" cy="185.22" r="1.05"/><circle cx="127.78" cy="184.76" r="1.05"/><circle cx="128.80" cy="184.39" r="1.05"/><circle cx="129.79" cy="184.38" r="1.05"/><circle cx="130.77" cy="184.50" r="1.05"/><circle cx="131.73" cy="184.03" r="1.05"/><circle cx="132.68" cy="183.77" r="1.05"/><circle cx="133.61" cy="183.26" r="1.05"/><circle cx="134.52" cy="183.45" r="1.05"/><circle cx="135.42" cy="182.94" r="1.05"/><circle cx="136.31" cy="182.92" r="1.05"/><circle cx="137.19" cy="182.26" r="1.05"/><circle cx="138.05" cy="182.23" r="1.05"/><circle cx="138.89" cy="182.38" r="1.05"/><circle cx="139.73" cy="182.00" r="1.05"/><circle cx="140.55" cy="181.52" r="1.05" fill="#0e980e"/><circle cx="141.37" cy="181.18" r="1.05"/><circle cx="142.17" cy="181.45" r="1.05"/><circle cx="142.96" cy="180.99" r="1.05"/><circle cx="143.74" cy="181.51" r="1.05"/><circle cx="144.51" cy="180.83" r="1.05"/><circle cx="145.26" cy="180.55" r="1.05"/><circle cx="146.01" cy="180.09" r="1.05"/><circle cx="146.75" cy="180.45" r="1.05" fill="#0e980e"/><circle cx="147.48" cy="179.77" r="1.05" fill="#0e980e"/><circle cx="148.20" cy="179.58" r="1.05" fill="#0e980e"/><circle cx="148.92" cy="179.06" r="1.05" fill="#0e980e"/><circle cx="149.62" cy="179.57" r="1.05"/><circle cx="150.31" cy="178.84" r="1.05"/><circle cx="151.00" cy="178.98" r="1.05" fill="#0e980e"/><circle cx="151.68" cy="177.92" r="1.05"/><circle cx="152.35" cy="178.98" r="1.05" fill="#0e980e"/><circle cx="153.01" cy="178.31" r="1.05" fill="#0e980e"/><circle cx="153.67" cy="177.96" r="1.05" fill="#0e980e"/><circle cx="154.31" cy="177.61" r="1.05"/><circle cx="154.96" cy="177.85" r="1.05" fill="#0e980e"/><circle cx="155.59" cy="177.36" r="1.05"/><circle cx="156.22" cy="178.15" r="1.05" fill="#0e980e"/><circle cx="156.84" cy="177.48" r="1.05" fill="#0e980e"/><circle cx="157.45" cy="176.66" r="1.05"/><circle cx="158.06" cy="176.18" r="1.05"/><circle cx="158.66" cy="176.74" r="1.05" fill="#0e980e"/><circle cx="159.25" cy="176.16" r="1.05" fill="#0e980e"/><circle cx="159.84" cy="175.78" r="1.05" fill="#0e980e"/><circle cx="160.42" cy="176.79" r="1.05" fill="#0e980e"/><circle cx="161.00" cy="176.21" r="1.05" fill="#0e980e"/><circle cx="161.57" cy="175.57" r="1.05"/><circle cx="162.13" cy="175.88" r="1.05" fill="#0e980e"/><circle cx="162.69" cy="176.07" r="1.05" fill="#0e980e"/><circle cx="163.25" cy="174.88" r="1.05"/><circle cx="163.80" cy="174.57" r="1.05"/><circle cx="164.34" cy="175.66" r="1.05"/><circle cx="164.88" cy="175.18" r="1.05" fill="#0e980e"/><circle cx="165.41" cy="174.07" r="1.05" fill="#0e980e"/><circle cx="165.94" cy="174.10" r="1.05"/><circle cx="166.46" cy="174.60" r="1.05" fill="#0e980e"/><circle cx="166.98" cy="173.60" r="1.05" fill="#0e980e"/><circle cx="167.50" cy="173.43" r="1.05" fill="#0e980e"/><circle cx="168.01" cy="172.97" r="1.05"/><circle cx="168.51" cy="173.72" r="1.05" fill="#0e980e"/><circle cx="169.02" cy="172.54" r="1.05"/><circle cx="169.51" cy="172.32" r="1.05"/><circle cx="170.01" cy="171.62" r="1.05" fill="#0e980e"/><circle cx="170.49" cy="172.09" r="1.05" fill="#0e980e"/><circle cx="170.98" cy="171.80" r="1.05"/><circle cx="171.46" cy="170.92" r="1.05"/><circle cx="171.93" cy="170.51" r="1.05" fill="#0e980e"/><circle cx="172.41" cy="171.04" r="1.05" fill="#0e980e"/><circle cx="172.88" cy="170.25" r="1.05"/><circle cx="173.34" cy="169.70" r="1.05" fill="#0e980e"/><circle cx="173.80" cy="168.82" r="1.05" fill="#0e980e"/><circle cx="174.26" cy="169.85" r="1.05"/><circle cx="174.71" cy="169.62" r="1.05"/><circle cx="175.16" cy="168.40" r="1.05"/><circle cx="175.61" cy="167.70" r="1.05" fill="#0e980e"/><circle cx="176.05" cy="168.40" r="1.05" fill="#0e980e"/><circle cx="176.49" cy="168.06" r="1.05"/><circle cx="176.93" cy="167.25" r="1.05" fill="#0e980e"/><circle cx="177.36" cy="168.42" r="1.05"/><circle cx="177.79" cy="167.82" r="1.05" fill="#0e980e"/><circle cx="178.22" cy="167.30" r="1.05" fill="#0e980e"/><circle cx="178.64" cy="166.25" r="1.05"/><circle cx="179.06" cy="167.54" r="1.05"/><circle cx="179.48" cy="166.45" r="1.05" fill="#0e980e"/><circle cx="179.90" cy="166.29" r="1.05" fill="#0e980e"/><circle cx="180.31" cy="165.09" r="1.05"/><circle cx="180.72" cy="166.49" r="1.05" fill="#0e980e"/><circle cx="181.12" cy="166.20" r="1.05" fill="#0e980e"/><circle cx="181.53" cy="165.45" r="1.05" fill="#0e980e"/><circle cx="181.93" cy="164.44" r="1.05" fill="#0e980e"/><circle cx="182.32" cy="164.55" r="1.05" fill="#0e980e"/><circle cx="182.72" cy="165.11" r="1.05" fill="#0e980e"/><circle cx="183.11" cy="164.22" r="1.05" fill="#0e980e"/><circle cx="183.50" cy="164.11" r="1.05" fill="#0e980e"/><circle cx="183.89" cy="163.55" r="1.05" fill="#0e980e"/><circle cx="184.27" cy="164.71" r="1.05" fill="#0e980e"/><circle cx="184.65" cy="163.77" r="1.05"/><circle cx="185.03" cy="163.57" r="1.05" fill="#0e980e"/><circle cx="185.41" cy="162.51" r="1.05" fill="#0e980e"/><circle cx="185.78" cy="164.10" r="1.05"/><circle cx="186.15" cy="162.88" r="1.05" fill="#0e980e"/><circle cx="186.52" cy="162.41" r="1.05"/><circle cx="186.89" cy="162.32" r="1.05" fill="#0e980e"/><circle cx="187.25" cy="162.90" r="1.05" fill="#0e980e"/><circle cx="187.62" cy="162.43" r="1.05" fill="#0e980e"/><circle cx="187.98" cy="161.82" r="1.05" fill="#0e980e"/><circle cx="188.33" cy="161.31" r="1.05"/><circle cx="188.69" cy="162.78" r="1.05" fill="#0e980e"/><circle cx="189.04" cy="161.75" r="1.05" fill="#0e980e"/><circle cx="189.39" cy="161.97" r="1.05" fill="#0e980e"/><circle cx="189.74" cy="160.98" r="1.05" fill="#0e980e"/><circle cx="190.09" cy="160.77" r="1.05"/><circle cx="190.44" cy="161.67" r="1.05"/><circle cx="190.78" cy="161.84" r="1.05" fill="#0e980e"/><circle cx="191.12" cy="160.87" r="1.05" fill="#0e980e"/><circle cx="191.46" cy="160.52" r="1.05" fill="#0e980e"/><circle cx="191.80" cy="160.75" r="1.05" fill="#0e980e"/><circle cx="192.13" cy="161.82" r="1.05" fill="#0e980e"/><circle cx="192.46" cy="160.95" r="1.05"/><circle cx="192.80" cy="160.54" r="1.05" fill="#0e980e"/><circle cx="193.12" cy="160.86" r="1.05"/><circle cx="193.45" cy="161.26" r="1.05" fill="#0e980e"/><circle cx="193.78" cy="161.18" r="1.05" fill="#0e980e"/><circle cx="194.10" cy="160.51" r="1.05"/><circle cx="194.42" cy="160.68" r="1.05"/><circle cx="194.74" cy="160.96" r="1.05" fill="#0e980e"/><circle cx="195.06" cy="160.93" r="1.05" fill="#0e980e"/><circle cx="195.38" cy="161.98" r="1.05" fill="#0e980e"/><circle cx="195.69" cy="161.71" r="1.05" fill="#0e980e"/><circle cx="196.01" cy="161.14" r="1.05"/><circle cx="196.32" cy="161.28" r="1.05"/><circle cx="196.63" cy="162.30" r="1.05"/><circle cx="196.94" cy="162.35" r="1.05"/><circle cx="197.24" cy="161.74" r="1.05"/><circle cx="197.55" cy="161.89" r="1.05" fill="#0e980e"/><circle cx="197.85" cy="162.49" r="1.05" fill="#0e980e"/><circle cx="198.15" cy="162.61" r="1.05" fill="#0e980e"/><circle cx="198.45" cy="162.58" r="1.05" fill="#0e980e"/><circle cx="198.75" cy="161.83" r="1.05" fill="#0e980e"/><circle cx="199.05" cy="162.99" r="1.05" fill="#0e980e"/><circle cx="199.35" cy="162.60" r="1.05" fill="#0e980e"/><circle cx="199.65" cy="162.84" r="1.05"/><circle cx="199.95" cy="162.51" r="1.05"/><circle cx="200.25" cy="163.51" r="1.05" fill="#0e980e"/><circle cx="200.55" cy="163.45" r="1.05" fill="#0e980e"/><circle cx="200.85" cy="163.15" r="1.05"/><circle cx="201.15" cy="162.69" r="1.05" fill="#0e980e"/><circle cx="201.45" cy="163.46" r="1.05" fill="#0e980e"/><circle cx="201.75" cy="163.74" r="1.05" fill="#0e980e"/><circle cx="202.05" cy="162.89" r="1.05" fill="#0e980e"/><circle cx="202.35" cy="162.73" r="1.05"/><circle cx="202.65" cy="164.02" r="1.05" fill="#0e980e"/><circle cx="202.95" cy="164.26" r="1.05" fill="#0e980e"/><circle cx="203.25" cy="163.75" r="1.05" fill="#0e980e"/><circle cx="203.55" cy="163.33" r="1.05" fill="#0e980e"/><circle cx="203.85" cy="164.86" r="1.05" fill="#0e980e"/><circle cx="204.15" cy="164.24" r="1.05" fill="#0e980e"/><circle cx="204.45" cy="163.87" r="1.05" fill="#0e980e"/><circle cx="204.75" cy="163.48" r="1.05" fill="#0e980e"/><circle cx="205.05" cy="164.91" r="1.05"/><circle cx="205.35" cy="164.85" r="1.05" fill="#0e980e"/><circle cx="205.65" cy="164.45" r="1.05" fill="#0e980e"/><circle cx="205.95" cy="163.59" r="1.05" fill="#0e980e"/><circle cx="206.25" cy="164.43" r="1.05" fill="#0e980e"/><circle cx="206.55" cy="163.64" r="1.05" fill="#0e980e"/><circle cx="206.85" cy="164.93" r="1.05" fill="#0e980e"/><circle cx="207.15" cy="164.01" r="1.05"/><circle cx="207.45" cy="163.61" r="1.05" fill="#0e980e"/><circle cx="207.75" cy="163.86" r="1.05" fill="#0e980e"/><circle cx="208.05" cy="164.43" r="1.05" fill="#0e980e"/><circle cx="208.35" cy="164.53" r="1.05" fill="#0e980e"/><circle cx="208.65" cy="163.34" r="1.05"/><circle cx="208.95" cy="163.35" r="1.05" fill="#0e980e"/><circle cx="209.25" cy="163.70" r="1.05" fill="#0e980e"/><circle cx="209.55" cy="163.40" r="1.05" fill="#0e980e"/><circle cx="209.85" cy="162.68" r="1.05" fill="#0e980e"/><circle cx="210.15" cy="162.82" r="1.05" fill="#0e980e"/><circle cx="210.45" cy="164.04" r="1.05" fill="#0e980e"/><circle cx="210.75" cy="162.99" r="1.05" fill="#0e980e"/><circle cx="211.05" cy="162.19" r="1.05"/><circle cx="211.35" cy="162.18" r="1.05" fill="#0e980e"/><circle cx="211.65" cy="163.07" r="1.05" fill="#0e980e"/><circle cx="211.95" cy="162.12" r="1.05"/><circle cx="212.25" cy="161.80" r="1.05"/><circle cx="212.55" cy="162.82" r="1.05" fill="#0e980e"/><circle cx="212.85" cy="162.07" r="1.05" fill="#0e980e"/><circle cx="213.15" cy="161.79" r="1.05" fill="#0e980e"/><circle cx="213.45" cy="160.74" r="1.05" fill="#0e980e"/><circle cx="213.75" cy="160.69" r="1.05"/><circle cx="214.05" cy="162.89" r="1.05" fill="#0e980e"/><circle cx="214.35" cy="161.47" r="1.05"/><circle cx="214.65" cy="160.98" r="1.05" fill="#0e980e"/><circle cx="214.95" cy="160.53" r="1.05" fill="#0e980e"/><circle cx="215.25" cy="162.34" r="1.05" fill="#0e980e"/><circle cx="215.55" cy="161.85" r="1.05" fill="#0e980e"/><circle cx="215.85" cy="160.42" r="1.05" fill="#0e980e"/><circle cx="216.15" cy="160.04" r="1.05"/><circle cx="216.45" cy="162.02" r="1.05"/><circle cx="216.75" cy="160.50" r="1.05"/><circle cx="217.05" cy="159.96" r="1.05" fill="#0e980e"/><circle cx="217.35" cy="158.75" r="1.05"/><circle cx="217.65" cy="160.69" r="1.05"/><circle cx="217.95" cy="159.85" r="1.05"/><circle cx="218.25" cy="158.69" r="1.05" fill="#0e980e"/><circle cx="218.55" cy="160.19" r="1.05" fill="#0e980e"/><circle cx="218.85" cy="160.07" r="1.05"/><circle cx="219.15" cy="159.39" r="1.05" fill="#0e980e"/><circle cx="219.45" cy="159.87" r="1.05" fill="#0e980e"/><circle cx="219.75" cy="160.00" r="1.05" fill="#0e980e"/><circle cx="220.05" cy="158.34" r="1.05" fill="#0e980e"/><circle cx="220.35" cy="158.67" r="1.05"/><circle cx="220.65" cy="159.19" r="1.05" fill="#0e980e"/><circle cx="220.95" cy="159.93" r="1.05" fill="#0e980e"/><circle cx="221.25" cy="158.29" r="1.05" fill="#0e980e"/><circle cx="221.55" cy="157.35" r="1.05" fill="#0e980e"/><circle cx="221.85" cy="159.49" r="1.05" fill="#0e980e"/><circle cx="222.15" cy="158.19" r="1.05"/><circle cx="222.45" cy="157.51" r="1.05" fill="#0e980e"/><circle cx="222.75" cy="155.68" r="1.05" fill="#0e980e"/><circle cx="223.05" cy="157.92" r="1.05"/><circle cx="223.35" cy="156.28" r="1.05"/><circle cx="223.65" cy="155.46" r="1.05" fill="#0e980e"/><circle cx="223.95" cy="155.68" r="1.05"/><circle cx="224.25" cy="157.72" r="1.05" fill="#0e980e"/><circle cx="224.55" cy="155.85" r="1.05"/><circle cx="224.85" cy="155.55" r="1.05"/><circle cx="225.15" cy="152.75" r="1.05" fill="#0e980e"/><circle cx="225.45" cy="155.71" r="1.05"/><circle cx="225.75" cy="156.32" r="1.05"/><circle cx="226.05" cy="154.53" r="1.05"/><circle cx="226.35" cy="153.62" r="1.05"/><circle cx="226.65" cy="154.61" r="1.05" fill="#0e980e"/><circle cx="226.95" cy="155.52" r="1.05"/><circle cx="227.25" cy="152.84" r="1.05" fill="#0e980e"/><circle cx="227.55" cy="152.50" r="1.05"/><circle cx="227.85" cy="155.19" r="1.05" fill="#0e980e"/><circle cx="228.15" cy="153.55" r="1.05" fill="#0e980e"/><circle cx="228.45" cy="153.24" r="1.05" fill="#0e980e"/><circle cx="228.75" cy="151.30" r="1.05" fill="#0e980e"/><circle cx="229.05" cy="154.53" r="1.05"/><circle cx="229.35" cy="154.88" r="1.05" fill="#0e980e"/><circle cx="229.65" cy="151.53" r="1.05" fill="#0e980e"/><circle cx="229.95" cy="150.47" r="1.05" fill="#0e980e"/><circle cx="230.25" cy="154.27" r="1.05"/><circle cx="230.55" cy="152.61" r="1.05"/><circle cx="230.85" cy="151.09" r="1.05"/><circle cx="231.15" cy="149.68" r="1.05"/><circle cx="231.45" cy="153.23" r="1.05" fill="#0e980e"/><circle cx="231.75" cy="154.02" r="1.05"/><circle cx="232.05" cy="151.74" r="1.05" fill="#0e980e"/><circle cx="232.35" cy="149.02" r="1.05"/><circle cx="232.65" cy="153.71" r="1.05" fill="#0e980e"/><circle cx="232.95" cy="151.26" r="1.05" fill="#0e980e"/><circle cx="233.25" cy="152.37" r="1.05" fill="#0e980e"/><circle cx="233.55" cy="148.58" r="1.05" fill="#0e980e"/><circle cx="233.85" cy="154.41" r="1.05"/><circle cx="234.15" cy="151.71" r="1.05" fill="#0e980e"/><circle cx="234.45" cy="151.10" r="1.05" fill="#0e980e"/><circle cx="234.75" cy="151.39" r="1.05" fill="#0e980e"/><circle cx="235.05" cy="150.92" r="1.05"/><circle cx="235.35" cy="148.85" r="1.05" fill="#0e980e"/><circle cx="235.65" cy="154.03" r="1.05" fill="#0e980e"/><circle cx="235.95" cy="152.16" r="1.05" fill="#0e980e"/><circle cx="236.25" cy="152.34" r="1.05" fill="#0e980e"/><circle cx="236.55" cy="151.42" r="1.05" fill="#0e980e"/><circle cx="236.85" cy="153.05" r="1.05"/><circle cx="237.15" cy="152.39" r="1.05" fill="#0e980e"/><circle cx="237.45" cy="149.95" r="1.05" fill="#0e980e"/><circle cx="237.75" cy="154.50" r="1.05"/><circle cx="238.05" cy="153.41" r="1.05" fill="#0e980e"/><circle cx="238.35" cy="153.33" r="1.05" fill="#0e980e"/><circle cx="238.65" cy="150.67" r="1.05" fill="#0e980e"/><circle cx="238.95" cy="154.40" r="1.05"/><circle cx="239.25" cy="153.64" r="1.05" fill="#0e980e"/><circle cx="239.55" cy="154.79" r="1.05"/><circle cx="239.85" cy="152.17" r="1.05"/><circle cx="240.15" cy="157.56" r="1.05"/><circle cx="240.45" cy="154.47" r="1.05" fill="#0e980e"/><circle cx="240.75" cy="154.57" r="1.05" fill="#0e980e"/><circle cx="241.05" cy="153.44" r="1.05"/><circle cx="241.35" cy="158.72" r="1.05" fill="#0e980e"/><circle cx="241.65" cy="155.42" r="1.05" fill="#0e980e"/><circle cx="241.95" cy="155.12" r="1.05" fill="#0e980e"/><circle cx="242.25" cy="153.45" r="1.05" fill="#0e980e"/><circle cx="242.55" cy="156.15" r="1.05" fill="#0e980e"/><circle cx="242.85" cy="155.47" r="1.05"/><circle cx="243.15" cy="157.91" r="1.05"/><circle cx="243.45" cy="157.28" r="1.05" fill="#0e980e"/><circle cx="243.75" cy="157.07" r="1.05" fill="#0e980e"/><circle cx="244.05" cy="156.01" r="1.05"/><circle cx="244.35" cy="160.98" r="1.05"/><circle cx="244.65" cy="159.18" r="1.05" fill="#0e980e"/><circle cx="244.95" cy="158.37" r="1.05" fill="#0e980e"/><circle cx="245.25" cy="158.97" r="1.05" fill="#0e980e"/><circle cx="245.55" cy="160.82" r="1.05"/><circle cx="245.85" cy="160.57" r="1.05" fill="#0e980e"/><circle cx="246.15" cy="161.18" r="1.05"/><circle cx="246.45" cy="159.86" r="1.05" fill="#0e980e"/><circle cx="246.75" cy="163.18" r="1.05" fill="#0e980e"/><circle cx="247.05" cy="160.21" r="1.05" fill="#0e980e"/><circle cx="247.35" cy="159.48" r="1.05"/><circle cx="247.65" cy="165.49" r="1.05"/><circle cx="247.95" cy="164.81" r="1.05" fill="#0e980e"/><circle cx="248.25" cy="161.89" r="1.05" fill="#0e980e"/><circle cx="248.55" cy="162.34" r="1.05" fill="#0e980e"/><circle cx="248.85" cy="166.85" r="1.05" fill="#0e980e"/><circle cx="249.15" cy="164.80" r="1.05" fill="#0e980e"/><circle cx="249.45" cy="164.91" r="1.05" fill="#0e980e"/><circle cx="249.75" cy="165.72" r="1.05" fill="#0e980e"/><circle cx="250.05" cy="170.29" r="1.05" fill="#0e980e"/><circle cx="250.35" cy="167.93" r="1.05" fill="#0e980e"/><circle cx="250.65" cy="167.41" r="1.05" fill="#0e980e"/><circle cx="250.95" cy="167.91" r="1.05" fill="#0e980e"/><circle cx="251.25" cy="171.56" r="1.05" fill="#0e980e"/><circle cx="251.55" cy="170.05" r="1.05"/><circle cx="251.85" cy="171.56" r="1.05" fill="#0e980e"/><circle cx="252.15" cy="170.58" r="1.05" fill="#0e980e"/><circle cx="252.45" cy="172.74" r="1.05"/><circle cx="252.75" cy="172.29" r="1.05" fill="#0e980e"/><circle cx="253.05" cy="171.83" r="1.05" fill="#0e980e"/><circle cx="253.35" cy="176.52" r="1.05"/><circle cx="253.65" cy="177.73" r="1.05" fill="#0e980e"/><circle cx="253.95" cy="175.44" r="1.05" fill="#0e980e"/><circle cx="254.25" cy="173.63" r="1.05" fill="#0e980e"/><circle cx="254.55" cy="180.04" r="1.05" fill="#0e980e"/><circle cx="254.85" cy="180.64" r="1.05" fill="#0e980e"/><circle cx="255.15" cy="178.02" r="1.05" fill="#0e980e"/><circle cx="255.45" cy="176.89" r="1.05" fill="#0e980e"/><circle cx="255.75" cy="179.83" r="1.05" fill="#0e980e"/><circle cx="256.05" cy="179.36" r="1.05" fill="#0e980e"/><circle cx="256.35" cy="187.89" r="1.05"/><circle cx="256.65" cy="185.33" r="1.05" fill="#0e980e"/><circle cx="256.95" cy="185.23" r="1.05" fill="#0e980e"/><circle cx="257.25" cy="182.82" r="1.05"/><circle cx="257.55" cy="187.90" r="1.05"/><circle cx="257.85" cy="185.55" r="1.05" fill="#0e980e"/><circle cx="258.15" cy="184.06" r="1.05"/><circle cx="258.45" cy="191.34" r="1.05"/><circle cx="258.75" cy="191.48" r="1.05"/><circle cx="259.05" cy="188.56" r="1.05" fill="#0e980e"/><circle cx="259.35" cy="190.23" r="1.05" fill="#0e980e"/><circle cx="259.65" cy="187.34" r="1.05"/><circle cx="259.95" cy="191.71" r="1.05" fill="#0e980e"/><circle cx="260.25" cy="190.61" r="1.05"/><circle cx="260.55" cy="192.85" r="1.05" fill="#0e980e"/><circle cx="260.85" cy="195.12" r="1.05" fill="#0e980e"/><circle cx="261.15" cy="196.50" r="1.05" fill="#0e980e"/><circle cx="261.45" cy="195.35" r="1.05"/><circle cx="261.75" cy="193.08" r="1.05" fill="#0e980e"/><circle cx="262.05" cy="200.72" r="1.05" fill="#0e980e"/><circle cx="262.35" cy="198.75" r="1.05"/><circle cx="262.65" cy="199.40" r="1.05"/><circle cx="262.95" cy="195.75" r="1.05" fill="#0e980e"/><circle cx="263.25" cy="203.73" r="1.05" fill="#0e980e"/><circle cx="263.55" cy="200.70" r="1.05"/><circle cx="263.85" cy="202.55" r="1.05" fill="#0e980e"/><circle cx="264.15" cy="199.55" r="1.05" fill="#0e980e"/><circle cx="264.45" cy="205.26" r="1.05" fill="#0e980e"/><circle cx="264.75" cy="203.36" r="1.05" fill="#0e980e"/><circle cx="265.05" cy="203.30" r="1.05" fill="#0e980e"/><circle cx="265.35" cy="203.65" r="1.05" fill="#0e980e"/><circle cx="265.65" cy="208.56" r="1.05"/><circle cx="265.95" cy="210.26" r="1.05" fill="#0e980e"/><circle cx="266.25" cy="205.84" r="1.05"/><circle cx="266.55" cy="208.64" r="1.05" fill="#0e980e"/><circle cx="266.85" cy="209.06" r="1.05" fill="#0e980e"/><circle cx="267.15" cy="210.00" r="1.05" fill="#0e980e"/><circle cx="267.45" cy="208.98" r="1.05" fill="#0e980e"/><circle cx="267.75" cy="210.99" r="1.05" fill="#0e980e"/><circle cx="268.05" cy="216.29" r="1.05"/><circle cx="268.35" cy="216.35" r="1.05"/><circle cx="268.65" cy="214.67" r="1.05"/><circle cx="268.95" cy="212.44" r="1.05" fill="#0e980e"/><circle cx="269.25" cy="217.29" r="1.05" fill="#0e980e"/><circle cx="269.55" cy="219.18" r="1.05"/><circle cx="269.85" cy="215.95" r="1.05"/><circle cx="270.15" cy="216.16" r="1.05" fill="#0e980e"/><circle cx="270.45" cy="222.02" r="1.05" fill="#0e980e"/><circle cx="270.75" cy="220.00" r="1.05" fill="#0e980e"/><circle cx="271.05" cy="222.66" r="1.05" fill="#0e980e"/><circle cx="271.35" cy="218.49" r="1.05" fill="#0e980e"/><circle cx="271.65" cy="220.32" r="1.05" fill="#0e980e"/><circle cx="271.95" cy="218.97" r="1.05" fill="#0e980e"/><circle cx="272.25" cy="224.65" r="1.05" fill="#0e980e"/><circle cx="272.55" cy="225.64" r="1.05" fill="#0e980e"/><circle cx="272.85" cy="222.88" r="1.05"/><circle cx="273.15" cy="220.60" r="1.05" fill="#0e980e"/><circle cx="273.45" cy="223.24" r="1.05" fill="#0e980e"/><circle cx="273.75" cy="231.50" r="1.05" fill="#0e980e"/><circle cx="274.05" cy="225.58" r="1.05" fill="#0e980e"/><circle cx="274.35" cy="223.68" r="1.05" fill="#0e980e"/><circle cx="274.65" cy="225.37" r="1.05" fill="#0e980e"/><circle cx="274.95" cy="228.59" r="1.05" fill="#0e980e"/><circle cx="275.25" cy="227.01" r="1.05"/><circle cx="275.55" cy="223.99" r="1.05" fill="#0e980e"/><circle cx="275.85" cy="226.29" r="1.05"/><circle cx="276.15" cy="226.55" r="1.05"/><circle cx="276.45" cy="226.86" r="1.05" fill="#0e980e"/><circle cx="276.75" cy="223.78" r="1.05"/><circle cx="277.05" cy="229.84" r="1.05" fill="#0e980e"/><circle cx="277.35" cy="228.51" r="1.05" fill="#0e980e"/><circle cx="277.65" cy="224.98" r="1.05" fill="#0e980e"/><circle cx="277.95" cy="222.99" r="1.05" fill="#0e980e"/><circle cx="278.25" cy="230.82" r="1.05" fill="#0e980e"/><circle cx="278.55" cy="229.37" r="1.05"/><circle cx="278.85" cy="223.99" r="1.05" fill="#0e980e"/><circle cx="279.15" cy="220.98" r="1.05" fill="#0e980e"/><circle cx="279.45" cy="227.58" r="1.05"/><circle cx="279.75" cy="226.26" r="1.05"/><circle cx="280.05" cy="225.28" r="1.05" fill="#0e980e"/><circle cx="280.35" cy="221.96" r="1.05"/><circle cx="280.65" cy="231.23" r="1.05" fill="#0e980e"/><circle cx="280.95" cy="224.96" r="1.05" fill="#0e980e"/><circle cx="281.25" cy="225.10" r="1.05" fill="#0e980e"/><circle cx="281.55" cy="223.78" r="1.05" fill="#0e980e"/><circle cx="281.85" cy="225.99" r="1.05" fill="#0e980e"/><circle cx="282.15" cy="226.92" r="1.05" fill="#0e980e"/><circle cx="282.45" cy="221.53" r="1.05" fill="#0e980e"/><circle cx="282.75" cy="221.43" r="1.05" fill="#0e980e"/><circle cx="283.05" cy="227.89" r="1.05"/><circle cx="283.35" cy="224.53" r="1.05" fill="#0e980e"/><circle cx="283.65" cy="221.28" r="1.05" fill="#0e980e"/><circle cx="283.95" cy="218.44" r="1.05" fill="#0e980e"/><circle cx="284.25" cy="224.54" r="1.05" fill="#0e980e"/><circle cx="284.55" cy="220.76" r="1.05" fill="#0e980e"/><circle cx="284.85" cy="219.40" r="1.05" fill="#0e980e"/><circle cx="285.15" cy="223.38" r="1.05"/><circle cx="285.45" cy="220.25" r="1.05"/><circle cx="285.75" cy="217.97" r="1.05"/><circle cx="286.05" cy="214.61" r="1.05" fill="#0e980e"/><circle cx="286.35" cy="222.13" r="1.05" fill="#0e980e"/><circle cx="286.65" cy="217.26" r="1.05" fill="#0e980e"/><circle cx="286.95" cy="213.30" r="1.05" fill="#0e980e"/><circle cx="287.25" cy="215.26" r="1.05"/><circle cx="287.55" cy="218.78" r="1.05" fill="#0e980e"/><circle cx="287.85" cy="216.90" r="1.05" fill="#0e980e"/><circle cx="288.15" cy="215.04" r="1.05"/><circle cx="288.45" cy="209.44" r="1.05" fill="#0e980e"/><circle cx="288.75" cy="214.25" r="1.05" fill="#0e980e"/><circle cx="289.05" cy="212.71" r="1.05" fill="#0e980e"/><circle cx="289.35" cy="212.46" r="1.05" fill="#0e980e"/><circle cx="289.65" cy="207.70" r="1.05" fill="#0e980e"/><circle cx="289.95" cy="213.75" r="1.05" fill="#0e980e"/><circle cx="290.25" cy="210.37" r="1.05" fill="#0e980e"/><circle cx="290.55" cy="210.31" r="1.05" fill="#0e980e"/><circle cx="290.85" cy="209.21" r="1.05" fill="#0e980e"/><circle cx="291.15" cy="208.62" r="1.05"/><circle cx="291.45" cy="207.87" r="1.05" fill="#0e980e"/><circle cx="291.75" cy="209.81" r="1.05"/><circle cx="292.05" cy="209.28" r="1.05" fill="#0e980e"/><circle cx="292.35" cy="208.23" r="1.05" fill="#0e980e"/><circle cx="292.65" cy="207.29" r="1.05" fill="#0e980e"/><circle cx="292.95" cy="207.46" r="1.05" fill="#0e980e"/><circle cx="293.25" cy="208.37" r="1.05" fill="#0e980e"/><circle cx="293.55" cy="204.36" r="1.05" fill="#0e980e"/><circle cx="293.85" cy="209.30" r="1.05" fill="#0e980e"/><circle cx="294.15" cy="208.86" r="1.05" fill="#0e980e"/><circle cx="294.45" cy="205.88" r="1.05" fill="#0e980e"/><circle cx="294.75" cy="205.83" r="1.05" fill="#0e980e"/><circle cx="295.05" cy="208.67" r="1.05" fill="#0e980e"/><circle cx="295.35" cy="207.69" r="1.05" fill="#0e980e"/><circle cx="295.65" cy="204.20" r="1.05" fill="#0e980e"/><circle cx="295.95" cy="203.38" r="1.05" fill="#0e980e"/><circle cx="296.25" cy="206.74" r="1.05"/><circle cx="296.55" cy="206.15" r="1.05"/><circle cx="296.85" cy="205.35" r="1.05" fill="#0e980e"/><circle cx="297.15" cy="202.60" r="1.05"/><circle cx="297.45" cy="205.64" r="1.05"/><circle cx="297.75" cy="204.51" r="1.05" fill="#0e980e"/><circle cx="298.05" cy="203.18" r="1.05" fill="#0e980e"/><circle cx="298.35" cy="203.19" r="1.05" fill="#0e980e"/><circle cx="298.65" cy="202.96" r="1.05" fill="#0e980e"/><circle cx="298.95" cy="201.04" r="1.05" fill="#0e980e"/><circle cx="299.25" cy="204.07" r="1.05" fill="#0e980e"/><circle cx="299.55" cy="203.34" r="1.05" fill="#0e980e"/><circle cx="299.85" cy="203.06" r="1.05"/><circle cx="300.15" cy="200.63" r="1.05"/><circle cx="300.45" cy="203.02" r="1.05" fill="#0e980e"/><circle cx="300.75" cy="203.19" r="1.05" fill="#0e980e"/><circle cx="301.05" cy="201.03" r="1.05"/><circle cx="301.35" cy="200.35" r="1.05" fill="#0e980e"/><circle cx="301.65" cy="201.83" r="1.05" fill="#0e980e"/><circle cx="301.95" cy="202.46" r="1.05" fill="#0e980e"/><circle cx="302.25" cy="201.20" r="1.05" fill="#0e980e"/><circle cx="302.55" cy="200.54" r="1.05" fill="#0e980e"/><circle cx="302.85" cy="201.59" r="1.05"/><circle cx="303.15" cy="200.15" r="1.05" fill="#0e980e"/><circle cx="303.45" cy="199.61" r="1.05" fill="#0e980e"/><circle cx="303.75" cy="201.02" r="1.05" fill="#0e980e"/><circle cx="304.05" cy="201.22" r="1.05" fill="#0e980e"/><circle cx="304.35" cy="199.47" r="1.05"/><circle cx="304.65" cy="199.62" r="1.05"/><circle cx="304.95" cy="198.98" r="1.05" fill="#0e980e"/><circle cx="305.25" cy="199.87" r="1.05"/><circle cx="305.55" cy="199.80" r="1.05"/><circle cx="305.85" cy="199.05" r="1.05" fill="#0e980e"/><circle cx="306.15" cy="198.54" r="1.05" fill="#0e980e"/><circle cx="306.45" cy="197.79" r="1.05" fill="#0e980e"/><circle cx="306.75" cy="197.40" r="1.05" fill="#0e980e"/><circle cx="307.05" cy="198.39" r="1.05" fill="#0e980e"/><circle cx="307.35" cy="198.13" r="1.05" fill="#0e980e"/><circle cx="307.65" cy="199.21" r="1.05"/><circle cx="307.95" cy="199.01" r="1.05" fill="#0e980e"/><circle cx="308.25" cy="197.38" r="1.05" fill="#0e980e"/><circle cx="308.55" cy="196.94" r="1.05" fill="#0e980e"/><circle cx="308.85" cy="199.06" r="1.05" fill="#0e980e"/><circle cx="309.15" cy="198.50" r="1.05" fill="#0e980e"/><circle cx="309.45" cy="197.90" r="1.05" fill="#0e980e"/><circle cx="309.75" cy="196.89" r="1.05" fill="#0e980e"/><circle cx="310.05" cy="198.18" r="1.05" fill="#0e980e"/><circle cx="310.35" cy="197.41" r="1.05" fill="#0e980e"/><circle cx="310.65" cy="197.00" r="1.05" fill="#0e980e"/><circle cx="310.95" cy="197.10" r="1.05" fill="#0e980e"/><circle cx="311.25" cy="198.47" r="1.05" fill="#0e980e"/><circle cx="311.55" cy="197.51" r="1.05" fill="#0e980e"/><circle cx="311.85" cy="197.08" r="1.05" fill="#0e980e"/><circle cx="312.15" cy="196.06" r="1.05" fill="#0e980e"/><circle cx="312.45" cy="197.87" r="1.05" fill="#0e980e"/><circle cx="312.75" cy="197.44" r="1.05" fill="#0e980e"/><circle cx="313.05" cy="196.82" r="1.05" fill="#0e980e"/><circle cx="313.35" cy="196.21" r="1.05" fill="#0e980e"/><circle cx="313.65" cy="196.74" r="1.05" fill="#0e980e"/><circle cx="313.95" cy="196.24" r="1.05" fill="#0e980e"/><circle cx="314.25" cy="196.67" r="1.05" fill="#0e980e"/><circle cx="314.55" cy="196.66" r="1.05" fill="#0e980e"/><circle cx="314.85" cy="196.21" r="1.05"/><circle cx="315.15" cy="196.06" r="1.05" fill="#0e980e"/><circle cx="315.45" cy="196.57" r="1.05"/><circle cx="315.75" cy="196.36" r="1.05" fill="#0e980e"/><circle cx="316.05" cy="196.28" r="1.05" fill="#0e980e"/><circle cx="316.35" cy="195.44" r="1.05" fill="#0e980e"/><circle cx="316.65" cy="196.53" r="1.05" fill="#0e980e"/><circle cx="316.95" cy="196.00" r="1.05" fill="#0e980e"/><circle cx="317.25" cy="195.83" r="1.05" fill="#0e980e"/><circle cx="317.55" cy="195.61" r="1.05" fill="#0e980e"/><circle cx="317.85" cy="196.29" r="1.05" fill="#0e980e"/><circle cx="318.15" cy="195.97" r="1.05" fill="#0e980e"/><circle cx="318.45" cy="195.67" r="1.05"/><circle cx="318.75" cy="195.37" r="1.05"/><circle cx="319.05" cy="195.76" r="1.05" fill="#0e980e"/><circle cx="319.35" cy="195.93" r="1.05" fill="#0e980e"/><circle cx="319.65" cy="195.26" r="1.05" fill="#0e980e"/><circle cx="319.95" cy="195.02" r="1.05" fill="#0e980e"/><circle cx="320.25" cy="195.80" r="1.05"/><circle cx="320.55" cy="195.46" r="1.05" fill="#0e980e"/><circle cx="320.85" cy="195.42" r="1.05" fill="#0e980e"/><circle cx="321.15" cy="195.00" r="1.05" fill="#0e980e"/><circle cx="321.45" cy="195.48" r="1.05" fill="#0e980e"/><circle cx="321.75" cy="195.10" r="1.05" fill="#0e980e"/><circle cx="322.05" cy="195.09" r="1.05"/><circle cx="322.35" cy="195.75" r="1.05" fill="#0e980e"/><circle cx="322.65" cy="195.46" r="1.05" fill="#0e980e"/><circle cx="322.95" cy="195.18" r="1.05" fill="#0e980e"/><circle cx="323.25" cy="194.71" r="1.05" fill="#0e980e"/><circle cx="323.55" cy="195.57" r="1.05" fill="#0e980e"/><circle cx="323.85" cy="195.10" r="1.05"/><circle cx="324.15" cy="195.02" r="1.05" fill="#0e980e"/><circle cx="324.45" cy="194.85" r="1.05" fill="#0e980e"/><circle cx="324.75" cy="195.31" r="1.05" fill="#0e980e"/><circle cx="325.05" cy="194.88" r="1.05" fill="#0e980e"/><circle cx="325.35" cy="194.91" r="1.05"/><circle cx="325.65" cy="194.41" r="1.05" fill="#0e980e"/><circle cx="325.95" cy="194.69" r="1.05" fill="#0e980e"/><circle cx="326.25" cy="195.22" r="1.05" fill="#0e980e"/><circle cx="326.55" cy="194.72" r="1.05" fill="#0e980e"/><circle cx="326.85" cy="194.75" r="1.05" fill="#0e980e"/><circle cx="327.15" cy="194.52" r="1.05" fill="#0e980e"/><circle cx="327.45" cy="194.59" r="1.05" fill="#0e980e"/><circle cx="327.75" cy="194.30" r="1.05"/><circle cx="328.05" cy="194.82" r="1.05" fill="#0e980e"/><circle cx="328.35" cy="194.83" r="1.05" fill="#0e980e"/><circle cx="328.65" cy="194.54" r="1.05" fill="#0e980e"/><circle cx="328.95" cy="194.14" r="1.05" fill="#0e980e"/><circle cx="329.25" cy="194.36" r="1.05" fill="#0e980e"/><circle cx="329.55" cy="194.03" r="1.05" fill="#0e980e"/><circle cx="329.85" cy="194.71" r="1.05" fill="#0e980e"/><circle cx="330.15" cy="194.48" r="1.05" fill="#0e980e"/><circle cx="330.45" cy="194.30" r="1.05"/><circle cx="330.75" cy="194.02" r="1.05" fill="#0e980e"/><circle cx="331.05" cy="194.52" r="1.05" fill="#0e980e"/><circle cx="331.35" cy="194.58" r="1.05"/><circle cx="331.65" cy="194.40" r="1.05" fill="#0e980e"/><circle cx="331.95" cy="194.07" r="1.05" fill="#0e980e"/><circle cx="332.25" cy="194.16" r="1.05" fill="#0e980e"/><circle cx="332.55" cy="194.09" r="1.05" fill="#0e980e"/><circle cx="332.85" cy="193.96" r="1.05" fill="#0e980e"/><circle cx="333.15" cy="194.28" r="1.05" fill="#0e980e"/><circle cx="333.45" cy="194.10" r="1.05"/><circle cx="333.75" cy="194.24" r="1.05" fill="#0e980e"/><circle cx="334.05" cy="193.74" r="1.05"/><circle cx="334.35" cy="194.34" r="1.05"/><circle cx="334.65" cy="194.26" r="1.05" fill="#0e980e"/><circle cx="334.95" cy="194.10" r="1.05" fill="#0e980e"/><circle cx="335.25" cy="193.82" r="1.05" fill="#0e980e"/><circle cx="335.55" cy="194.49" r="1.05" fill="#0e980e"/><circle cx="335.85" cy="193.93" r="1.05" fill="#0e980e"/><circle cx="336.15" cy="193.82" r="1.05"/><circle cx="336.45" cy="193.62" r="1.05" fill="#0e980e"/><circle cx="336.75" cy="194.33" r="1.05" fill="#0e980e"/><circle cx="337.05" cy="194.13" r="1.05" fill="#0e980e"/><circle cx="337.35" cy="193.82" r="1.05" fill="#0e980e"/><circle cx="337.65" cy="193.61" r="1.05" fill="#0e980e"/><circle cx="337.95" cy="194.00" r="1.05" fill="#0e980e"/><circle cx="338.25" cy="193.99" r="1.05" fill="#0e980e"/><circle cx="338.55" cy="193.88" r="1.05" fill="#0e980e"/><circle cx="338.85" cy="193.48" r="1.05"/><circle cx="339.15" cy="194.04" r="1.05" fill="#0e980e"/><circle cx="339.45" cy="194.15" r="1.05" fill="#0e980e"/><circle cx="339.75" cy="193.59" r="1.05" fill="#0e980e"/><circle cx="340.05" cy="193.72" r="1.05" fill="#0e980e"/><circle cx="340.35" cy="194.03" r="1.05" fill="#0e980e"/><circle cx="340.65" cy="193.97" r="1.05" fill="#0e980e"/><circle cx="340.95" cy="193.68" r="1.05"/></g><polygon points="190.5,276.64 191.0,276.78 191.5,277.29 192.0,277.81 192.5,278.33 193.0,278.87 193.5,279.51 194.0,280.24 194.5,281.02 195.0,281.86 195.5,282.72 196.0,283.60 196.5,284.48 197.0,285.42 197.5,286.42 198.0,287.44 198.5,288.50 199.0,289.58 199.5,290.64 200.0,291.67 200.5,292.73 201.0,293.79 201.5,294.83 202.0,295.81 202.5,296.68 203.0,297.43 203.5,298.03 204.0,298.59 204.5,299.12 205.0,299.60 205.5,300.03 206.0,300.38 206.5,300.65 207.0,300.83 207.5,300.98 208.0,301.12 208.5,301.25 209.0,301.37 209.5,301.47 210.0,301.55 210.5,301.62 211.0,301.67 211.5,301.70 212.0,301.71 212.5,301.70 213.0,301.67 213.5,301.63 214.0,301.58 214.5,301.52 215.0,301.45 215.5,301.38 216.0,301.30 216.5,301.22 217.0,301.13 217.5,301.05 218.0,300.97 218.5,300.90 219.0,300.83 219.5,300.76 220.0,300.70 220.5,300.63 221.0,300.56 221.5,300.49 222.0,300.42 222.5,300.36 223.0,300.29 223.5,300.24 224.0,300.19 224.5,300.15 225.0,300.11 225.5,300.09 226.0,300.07 226.5,300.07 227.0,300.08 227.5,300.11 228.0,300.14 228.5,300.19 229.0,300.25 229.5,300.32 230.0,300.40 230.5,300.49 231.0,300.60 231.5,300.71 232.0,300.83 232.5,300.97 233.0,301.15 233.5,301.38 234.0,301.65 234.5,301.95 235.0,302.28 235.5,302.64 236.0,303.02 236.5,303.45 237.0,304.02 237.5,304.69 238.0,305.45 238.5,306.26 239.0,307.09 239.5,307.92 240.0,308.70 240.5,309.44 241.0,310.18 241.5,310.92 242.0,311.66 242.5,312.42 243.0,313.18 243.5,313.95 244.0,314.73 244.5,315.52 245.0,316.33 245.5,317.15 246.0,317.98 246.5,318.83 247.0,319.71 247.5,320.61 248.0,321.54 248.5,322.48 249.0,323.43 249.5,324.39 250.0,325.36 250.5,326.33 251.0,327.29 251.5,328.24 252.0,329.18 252.5,330.11 253.0,331.02 253.5,331.92 254.0,332.81 254.5,333.70 255.0,334.58 255.5,335.46 256.0,336.33 256.5,337.21 257.0,338.08 257.5,338.96 258.0,339.83 258.5,340.70 259.0,341.60 259.5,342.54 260.0,343.49 260.5,344.44 261.0,345.36 261.5,346.25 262.0,347.07 262.5,347.81 263.0,348.45 263.5,348.96 264.0,349.41 264.5,349.84 265.0,350.26 265.5,350.64 266.0,350.99 266.5,351.31 267.0,351.58 267.5,351.81 268.0,351.98 268.5,352.10 269.0,352.19 269.5,352.27 270.0,352.33 270.5,352.37 271.0,352.38 271.5,352.29 272.0,352.07 272.5,351.75 273.0,351.35 273.5,350.91 274.0,350.47 274.5,350.05 275.0,349.63 275.5,349.19 276.0,348.73 276.5,348.25 277.0,347.76 277.5,347.26 278.0,346.76 278.5,346.25 279.0,345.75 279.5,345.25 280.0,344.76 280.5,344.26 281.0,343.76 281.5,343.25 282.0,342.75 282.5,342.24 283.0,341.74 283.5,341.23 284.0,340.73 284.5,340.23 285.0,339.74 285.5,339.25 286.0,338.77 286.5,338.29 287.0,337.82 287.5,337.34 288.0,336.85 288.5,336.35 289.0,335.86 289.5,335.37 290.0,334.89 290.5,334.42 291.0,333.97 291.5,333.53 292.0,333.12 292.5,332.73 293.0,332.38 293.5,332.06 294.0,331.74 294.5,331.43 295.0,331.13 295.5,330.83 296.0,330.54 296.5,330.26 297.0,329.99 297.5,329.74 298.0,329.49 298.5,329.26 299.0,329.03 299.5,328.83 300.0,328.63 300.5,328.46 301.0,328.30 301.5,328.15 302.0,328.02 302.5,327.89 303.0,327.77 303.5,327.65 304.0,327.54 304.5,327.43 305.0,327.32 305.5,327.22 306.0,327.12 306.5,327.03 307.0,326.94 307.5,326.85 308.0,326.77 308.5,326.70 309.0,326.63 309.5,326.56 310.0,326.50 310.5,326.44 311.0,326.39 311.5,326.34 312.0,326.30 312.5,326.26 313.0,326.23 313.5,326.20 314.0,326.17 314.5,326.14 315.0,326.12 315.5,326.10 316.0,326.07 316.5,326.05 317.0,326.04 317.5,326.02 318.0,326.00 318.5,325.98 319.0,325.96 319.5,325.94 320.0,325.92 320.5,325.90 321.0,325.88 321.5,325.86 322.0,325.83 322.5,325.80 323.0,325.78 323.5,325.75 324.0,325.72 324.5,325.69 325.0,325.66 325.5,325.62 326.0,325.59 326.5,325.56 327.0,325.53 327.5,325.50 328.0,325.47 328.5,325.44 329.0,325.41 329.5,325.39 330.0,325.36 330.5,325.34 331.0,325.31 331.5,325.29 332.0,325.27 332.5,325.25 333.0,325.24 333.5,325.22 334.0,325.21 334.5,325.19 335.0,325.18 335.5,325.17 336.0,325.16 336.5,325.14 337.0,325.13 337.5,325.12 338.0,325.11 338.5,325.10 339.0,325.09 339.5,325.09 340.0,325.08 340.5,325.08 341.0,325.07 341.0,325.15 340.5,325.16 340.0,325.17 339.5,325.18 339.0,325.19 338.5,325.20 338.0,325.21 337.5,325.23 337.0,325.24 336.5,325.26 336.0,325.27 335.5,325.29 335.0,325.31 334.5,325.32 334.0,325.34 333.5,325.36 333.0,325.38 332.5,325.40 332.0,325.42 331.5,325.44 331.0,325.46 330.5,325.49 330.0,325.52 329.5,325.55 329.0,325.58 328.5,325.61 328.0,325.64 327.5,325.67 327.0,325.70 326.5,325.74 326.0,325.77 325.5,325.80 325.0,325.84 324.5,325.87 324.0,325.91 323.5,325.94 323.0,325.97 322.5,326.01 322.0,326.04 321.5,326.07 321.0,326.11 320.5,326.14 320.0,326.17 319.5,326.21 319.0,326.25 318.5,326.28 318.0,326.32 317.5,326.36 317.0,326.41 316.5,326.45 316.0,326.49 315.5,326.54 315.0,326.59 314.5,326.64 314.0,326.69 313.5,326.74 313.0,326.80 312.5,326.86 312.0,326.92 311.5,326.98 311.0,327.05 310.5,327.13 310.0,327.21 309.5,327.29 309.0,327.38 308.5,327.47 308.0,327.57 307.5,327.68 307.0,327.79 306.5,327.90 306.0,328.02 305.5,328.14 305.0,328.27 304.5,328.40 304.0,328.54 303.5,328.69 303.0,328.83 302.5,328.99 302.0,329.14 301.5,329.31 301.0,329.49 300.5,329.68 300.0,329.89 299.5,330.13 299.0,330.37 298.5,330.63 298.0,330.91 297.5,331.20 297.0,331.50 296.5,331.82 296.0,332.14 295.5,332.48 295.0,332.83 294.5,333.19 294.0,333.55 293.5,333.92 293.0,334.31 292.5,334.72 292.0,335.18 291.5,335.66 291.0,336.18 290.5,336.71 290.0,337.27 289.5,337.84 289.0,338.42 288.5,339.01 288.0,339.60 287.5,340.18 287.0,340.76 286.5,341.34 286.0,341.93 285.5,342.54 285.0,343.16 284.5,343.78 284.0,344.41 283.5,345.05 283.0,345.69 282.5,346.32 282.0,346.95 281.5,347.58 281.0,348.19 280.5,348.80 280.0,349.39 279.5,349.96 279.0,350.54 278.5,351.14 278.0,351.73 277.5,352.32 277.0,352.89 276.5,353.45 276.0,353.98 275.5,354.48 275.0,354.94 274.5,355.35 274.0,355.77 273.5,356.20 273.0,356.63 272.5,357.02 272.0,357.34 271.5,357.55 271.0,357.62 270.5,357.60 270.0,357.55 269.5,357.48 269.0,357.40 268.5,357.30 268.0,357.16 267.5,356.96 267.0,356.70 266.5,356.38 266.0,356.01 265.5,355.60 265.0,355.15 264.5,354.67 264.0,354.16 263.5,353.64 263.0,353.05 262.5,352.32 262.0,351.45 261.5,350.47 261.0,349.41 260.5,348.31 260.0,347.20 259.5,346.10 259.0,345.04 258.5,344.06 258.0,343.15 257.5,342.28 257.0,341.41 256.5,340.55 256.0,339.70 255.5,338.85 255.0,338.00 254.5,337.15 254.0,336.29 253.5,335.42 253.0,334.53 252.5,333.63 252.0,332.70 251.5,331.74 251.0,330.75 250.5,329.73 250.0,328.70 249.5,327.65 249.0,326.61 248.5,325.58 248.0,324.56 247.5,323.56 247.0,322.59 246.5,321.67 246.0,320.78 245.5,319.92 245.0,319.08 244.5,318.25 244.0,317.44 243.5,316.64 243.0,315.85 242.5,315.07 242.0,314.31 241.5,313.55 241.0,312.79 240.5,312.05 240.0,311.30 239.5,310.52 239.0,309.73 238.5,308.96 238.0,308.22 237.5,307.54 237.0,306.94 236.5,306.45 236.0,306.08 235.5,305.76 235.0,305.48 234.5,305.22 234.0,305.00 233.5,304.80 233.0,304.62 232.5,304.46 232.0,304.32 231.5,304.19 231.0,304.05 230.5,303.91 230.0,303.77 229.5,303.64 229.0,303.52 228.5,303.41 228.0,303.32 227.5,303.24 227.0,303.18 226.5,303.14 226.0,303.13 225.5,303.14 225.0,303.16 224.5,303.20 224.0,303.26 223.5,303.32 223.0,303.39 222.5,303.47 222.0,303.56 221.5,303.64 221.0,303.72 220.5,303.80 220.0,303.88 219.5,303.94 219.0,304.00 218.5,304.05 218.0,304.11 217.5,304.18 217.0,304.25 216.5,304.32 216.0,304.39 215.5,304.45 215.0,304.51 214.5,304.57 214.0,304.61 213.5,304.65 213.0,304.68 212.5,304.69 212.0,304.69 211.5,304.66 211.0,304.60 210.5,304.51 210.0,304.40 209.5,304.26 209.0,304.10 208.5,303.92 208.0,303.74 207.5,303.53 207.0,303.32 206.5,303.08 206.0,302.75 205.5,302.32 205.0,301.82 204.5,301.26 204.0,300.66 203.5,300.05 203.0,299.41 202.5,298.68 202.0,297.90 201.5,297.08 201.0,296.22 200.5,295.35 200.0,294.48 199.5,293.61 199.0,292.67 198.5,291.66 198.0,290.60 197.5,289.52 197.0,288.47 196.5,287.46 196.0,286.50 195.5,285.54 195.0,284.57 194.5,283.63 194.0,282.73 193.5,281.89 193.0,281.12 192.5,280.44 192.0,279.77 191.5,279.09 191.0,278.42 190.5,277.42" fill="#ff1a10" stroke="#ff1a10" stroke-width="2.56" stroke-linejoin="round"/><polyline points="53.00,322.20 56.63,323.86 60.04,322.78 63.26,319.97 66.31,316.61 69.20,313.93 71.96,311.81 74.59,310.17 77.11,308.77 79.52,307.27 81.83,305.76 84.06,305.78 86.20,306.80 88.27,306.48 90.26,306.14 92.19,306.06 94.05,304.81 95.86,304.15 97.61,301.06 99.31,304.60 100.96,302.92 102.56,299.54 104.12,296.98" fill="none" stroke="#ff1a10" stroke-width="1.0"/><g fill="#ffc400" stroke="#ff1a10" stroke-width="0.9"><circle cx="53.00" cy="322.20" r="1.15"/><circle cx="56.63" cy="323.86" r="1.15"/><circle cx="60.04" cy="322.78" r="1.15"/><circle cx="63.26" cy="319.97" r="1.15"/><circle cx="66.31" cy="316.61" r="1.15"/><circle cx="69.20" cy="313.93" r="1.15"/><circle cx="71.96" cy="311.81" r="1.15"/><circle cx="74.59" cy="310.17" r="1.15"/><circle cx="77.11" cy="308.77" r="1.15"/><circle cx="79.52" cy="307.27" r="1.15"/><circle cx="81.83" cy="305.76" r="1.15"/><circle cx="84.06" cy="305.78" r="1.15"/><circle cx="86.20" cy="306.80" r="1.15"/><circle cx="88.27" cy="306.48" r="1.15"/><circle cx="90.26" cy="306.14" r="1.15"/><circle cx="92.19" cy="306.06" r="1.15"/><circle cx="94.05" cy="304.81" r="1.15"/><circle cx="95.86" cy="304.15" r="1.15"/><circle cx="97.61" cy="301.06" r="1.15"/><circle cx="99.31" cy="304.60" r="1.15"/><circle cx="100.96" cy="302.92" r="1.15"/><circle cx="102.56" cy="299.54" r="1.15"/><circle cx="104.12" cy="296.98" r="1.15"/><circle cx="105.64" cy="300.32" r="1.15"/><circle cx="107.12" cy="298.78" r="1.15"/><circle cx="108.57" cy="297.65" r="1.15"/><circle cx="109.98" cy="294.85" r="1.15"/><circle cx="111.35" cy="297.17" r="1.15"/><circle cx="112.69" cy="294.11" r="1.15"/><circle cx="114.01" cy="292.24" r="1.15"/><circle cx="115.29" cy="289.89" r="1.15"/><circle cx="116.54" cy="293.93" r="1.15"/><circle cx="117.77" cy="293.75" r="1.15"/><circle cx="118.97" cy="290.94" r="1.15"/><circle cx="120.15" cy="287.81" r="1.15"/><circle cx="121.31" cy="293.95" r="1.15"/><circle cx="122.44" cy="291.16" r="1.15"/><circle cx="123.55" cy="289.34" r="1.15"/><circle cx="124.64" cy="287.38" r="1.15"/><circle cx="125.71" cy="290.96" r="1.15"/><circle cx="126.75" cy="289.48" r="1.15"/><circle cx="127.78" cy="286.05" r="1.15"/><circle cx="128.80" cy="292.58" r="1.15"/><circle cx="129.79" cy="290.91" r="1.15"/><circle cx="130.77" cy="288.52" r="1.15"/><circle cx="131.73" cy="285.65" r="1.15"/><circle cx="132.68" cy="290.32" r="1.15"/><circle cx="133.61" cy="287.29" r="1.15"/><circle cx="134.52" cy="284.31" r="1.15"/><circle cx="135.42" cy="283.69" r="1.15"/><circle cx="136.31" cy="287.43" r="1.15"/><circle cx="137.19" cy="282.97" r="1.15"/><circle cx="138.05" cy="280.90" r="1.15"/><circle cx="138.89" cy="287.61" r="1.15"/><circle cx="139.73" cy="285.54" r="1.15"/><circle cx="140.55" cy="282.12" r="1.15"/><circle cx="141.37" cy="281.03" r="1.15"/><circle cx="142.17" cy="283.86" r="1.15"/><circle cx="142.96" cy="279.25" r="1.15"/><circle cx="143.74" cy="287.06" r="1.15"/><circle cx="144.51" cy="283.75" r="1.15"/><circle cx="145.26" cy="282.82" r="1.15"/><circle cx="146.01" cy="277.93" r="1.15"/><circle cx="146.75" cy="283.21" r="1.15"/><circle cx="147.48" cy="279.24" r="1.15"/><circle cx="148.20" cy="287.70" r="1.15" fill="#ff1a10"/><circle cx="148.92" cy="282.82" r="1.15"/><circle cx="149.62" cy="280.79" r="1.15"/><circle cx="150.31" cy="279.07" r="1.15" fill="#ff1a10"/><circle cx="151.00" cy="286.62" r="1.15"/><circle cx="151.68" cy="282.50" r="1.15"/><circle cx="152.35" cy="281.38" r="1.15"/><circle cx="153.01" cy="277.81" r="1.15" fill="#ff1a10"/><circle cx="153.67" cy="277.14" r="1.15" fill="#ff1a10"/><circle cx="154.31" cy="281.46" r="1.15"/><circle cx="154.96" cy="280.75" r="1.15"/><circle cx="155.59" cy="278.61" r="1.15"/><circle cx="156.22" cy="284.20" r="1.15" fill="#ff1a10"/><circle cx="156.84" cy="281.54" r="1.15" fill="#ff1a10"/><circle cx="157.45" cy="280.94" r="1.15"/><circle cx="158.06" cy="275.48" r="1.15"/><circle cx="158.66" cy="284.89" r="1.15" fill="#ff1a10"/><circle cx="159.25" cy="281.98" r="1.15"/><circle cx="159.84" cy="279.19" r="1.15"/><circle cx="160.42" cy="276.00" r="1.15"/><circle cx="161.00" cy="275.29" r="1.15" fill="#ff1a10"/><circle cx="161.57" cy="280.56" r="1.15"/><circle cx="162.13" cy="278.02" r="1.15"/><circle cx="162.69" cy="275.30" r="1.15"/><circle cx="163.25" cy="285.75" r="1.15" fill="#ff1a10"/><circle cx="163.80" cy="280.85" r="1.15"/><circle cx="164.34" cy="277.85" r="1.15"/><circle cx="164.88" cy="276.84" r="1.15"/><circle cx="165.41" cy="278.22" r="1.15"/><circle cx="165.94" cy="276.52" r="1.15"/><circle cx="166.46" cy="281.84" r="1.15" fill="#ff1a10"/><circle cx="166.98" cy="278.90" r="1.15"/><circle cx="167.50" cy="278.79" r="1.15" fill="#ff1a10"/><circle cx="168.01" cy="275.86" r="1.15" fill="#ff1a10"/><circle cx="168.51" cy="275.37" r="1.15"/><circle cx="169.02" cy="272.46" r="1.15" fill="#ff1a10"/><circle cx="169.51" cy="278.63" r="1.15"/><circle cx="170.01" cy="276.70" r="1.15"/><circle cx="170.49" cy="275.16" r="1.15" fill="#ff1a10"/><circle cx="170.98" cy="283.55" r="1.15" fill="#ff1a10"/><circle cx="171.46" cy="278.58" r="1.15" fill="#ff1a10"/><circle cx="171.93" cy="277.80" r="1.15" fill="#ff1a10"/><circle cx="172.41" cy="272.58" r="1.15" fill="#ff1a10"/><circle cx="172.88" cy="281.24" r="1.15"/><circle cx="173.34" cy="280.16" r="1.15" fill="#ff1a10"/><circle cx="173.80" cy="274.71" r="1.15"/><circle cx="174.26" cy="271.95" r="1.15" fill="#ff1a10"/><circle cx="174.71" cy="280.25" r="1.15"/><circle cx="175.16" cy="277.76" r="1.15" fill="#ff1a10"/><circle cx="175.61" cy="274.26" r="1.15"/><circle cx="176.05" cy="274.08" r="1.15"/><circle cx="176.49" cy="279.28" r="1.15"/><circle cx="176.93" cy="276.67" r="1.15" fill="#ff1a10"/><circle cx="177.36" cy="270.74" r="1.15"/><circle cx="177.79" cy="281.40" r="1.15"/><circle cx="178.22" cy="277.27" r="1.15"/><circle cx="178.64" cy="273.98" r="1.15"/><circle cx="179.06" cy="273.30" r="1.15" fill="#ff1a10"/><circle cx="179.48" cy="280.98" r="1.15"/><circle cx="179.90" cy="276.56" r="1.15"/><circle cx="180.31" cy="276.15" r="1.15"/><circle cx="180.72" cy="271.90" r="1.15" fill="#ff1a10"/><circle cx="181.12" cy="278.54" r="1.15" fill="#ff1a10"/><circle cx="181.53" cy="278.16" r="1.15" fill="#ff1a10"/><circle cx="181.93" cy="275.93" r="1.15" fill="#ff1a10"/><circle cx="182.32" cy="273.14" r="1.15"/><circle cx="182.72" cy="278.61" r="1.15"/><circle cx="183.11" cy="276.60" r="1.15" fill="#ff1a10"/><circle cx="183.50" cy="275.01" r="1.15"/><circle cx="183.89" cy="272.82" r="1.15"/><circle cx="184.27" cy="272.39" r="1.15" fill="#ff1a10"/><circle cx="184.65" cy="278.66" r="1.15"/><circle cx="185.03" cy="277.65" r="1.15"/><circle cx="185.41" cy="274.84" r="1.15" fill="#ff1a10"/><circle cx="185.78" cy="271.02" r="1.15" fill="#ff1a10"/><circle cx="186.15" cy="279.85" r="1.15" fill="#ff1a10"/><circle cx="186.52" cy="275.77" r="1.15"/><circle cx="186.89" cy="274.06" r="1.15"/><circle cx="187.25" cy="269.78" r="1.15" fill="#ff1a10"/><circle cx="187.62" cy="277.37" r="1.15" fill="#ff1a10"/><circle cx="187.98" cy="276.49" r="1.15"/><circle cx="188.33" cy="275.00" r="1.15"/><circle cx="188.69" cy="272.25" r="1.15" fill="#ff1a10"/><circle cx="189.04" cy="278.03" r="1.15" fill="#ff1a10"/><circle cx="189.39" cy="277.86" r="1.15" fill="#ff1a10"/><circle cx="189.74" cy="274.20" r="1.15" fill="#ff1a10"/><circle cx="190.09" cy="273.97" r="1.15"/><circle cx="190.44" cy="280.26" r="1.15"/><circle cx="190.78" cy="277.74" r="1.15"/><circle cx="191.12" cy="275.18" r="1.15" fill="#ff1a10"/><circle cx="191.46" cy="274.08" r="1.15" fill="#ff1a10"/><circle cx="191.80" cy="278.10" r="1.15"/><circle cx="192.13" cy="275.46" r="1.15"/><circle cx="192.46" cy="284.43" r="1.15"/><circle cx="192.80" cy="281.06" r="1.15" fill="#ff1a10"/><circle cx="193.12" cy="277.57" r="1.15" fill="#ff1a10"/><circle cx="193.45" cy="276.86" r="1.15"/><circle cx="193.78" cy="285.90" r="1.15" fill="#ff1a10"/><circle cx="194.10" cy="284.23" r="1.15"/><circle cx="194.42" cy="281.04" r="1.15" fill="#ff1a10"/><circle cx="194.74" cy="280.37" r="1.15" fill="#ff1a10"/><circle cx="195.06" cy="286.67" r="1.15" fill="#ff1a10"/><circle cx="195.38" cy="285.31" r="1.15" fill="#ff1a10"/><circle cx="195.69" cy="284.29" r="1.15" fill="#ff1a10"/><circle cx="196.01" cy="282.74" r="1.15"/><circle cx="196.32" cy="289.15" r="1.15" fill="#ff1a10"/><circle cx="196.63" cy="286.78" r="1.15"/><circle cx="196.94" cy="286.62" r="1.15"/><circle cx="197.24" cy="283.23" r="1.15"/><circle cx="197.55" cy="290.91" r="1.15" fill="#ff1a10"/><circle cx="197.85" cy="289.10" r="1.15"/><circle cx="198.15" cy="288.34" r="1.15" fill="#ff1a10"/><circle cx="198.45" cy="287.67" r="1.15" fill="#ff1a10"/><circle cx="198.75" cy="292.43" r="1.15" fill="#ff1a10"/><circle cx="199.05" cy="289.83" r="1.15" fill="#ff1a10"/><circle cx="199.35" cy="289.77" r="1.15"/><circle cx="199.65" cy="294.46" r="1.15"/><circle cx="199.95" cy="294.59" r="1.15"/><circle cx="200.25" cy="292.85" r="1.15"/><circle cx="200.55" cy="290.78" r="1.15" fill="#ff1a10"/><circle cx="200.85" cy="296.41" r="1.15"/><circle cx="201.15" cy="296.65" r="1.15" fill="#ff1a10"/><circle cx="201.45" cy="295.83" r="1.15"/><circle cx="201.75" cy="294.12" r="1.15"/><circle cx="202.05" cy="297.14" r="1.15"/><circle cx="202.35" cy="296.62" r="1.15"/><circle cx="202.65" cy="296.03" r="1.15" fill="#ff1a10"/><circle cx="202.95" cy="300.91" r="1.15" fill="#ff1a10"/><circle cx="203.25" cy="299.56" r="1.15" fill="#ff1a10"/><circle cx="203.55" cy="298.40" r="1.15" fill="#ff1a10"/><circle cx="203.85" cy="297.27" r="1.15"/><circle cx="204.15" cy="301.83" r="1.15"/><circle cx="204.45" cy="301.23" r="1.15"/><circle cx="204.75" cy="300.36" r="1.15"/><circle cx="205.05" cy="298.38" r="1.15"/><circle cx="205.35" cy="302.45" r="1.15"/><circle cx="205.65" cy="300.29" r="1.15" fill="#ff1a10"/><circle cx="205.95" cy="299.85" r="1.15" fill="#ff1a10"/><circle cx="206.25" cy="303.29" r="1.15" fill="#ff1a10"/><circle cx="206.55" cy="301.91" r="1.15"/><circle cx="206.85" cy="300.83" r="1.15"/><circle cx="207.15" cy="300.81" r="1.15" fill="#ff1a10"/><circle cx="207.45" cy="304.42" r="1.15" fill="#ff1a10"/><circle cx="207.75" cy="303.30" r="1.15"/><circle cx="208.05" cy="300.95" r="1.15"/><circle cx="208.35" cy="300.87" r="1.15" fill="#ff1a10"/><circle cx="208.65" cy="303.99" r="1.15" fill="#ff1a10"/><circle cx="208.95" cy="303.24" r="1.15" fill="#ff1a10"/><circle cx="209.25" cy="302.23" r="1.15" fill="#ff1a10"/><circle cx="209.55" cy="301.21" r="1.15" fill="#ff1a10"/><circle cx="209.85" cy="304.57" r="1.15" fill="#ff1a10"/><circle cx="210.15" cy="303.49" r="1.15"/><circle cx="210.45" cy="301.54" r="1.15"/><circle cx="210.75" cy="300.27" r="1.15" fill="#ff1a10"/><circle cx="211.05" cy="304.94" r="1.15"/><circle cx="211.35" cy="302.40" r="1.15"/><circle cx="211.65" cy="300.22" r="1.15"/><circle cx="211.95" cy="304.64" r="1.15" fill="#ff1a10"/><circle cx="212.25" cy="304.99" r="1.15" fill="#ff1a10"/><circle cx="212.55" cy="302.11" r="1.15"/><circle cx="212.85" cy="300.16" r="1.15"/><circle cx="213.15" cy="304.53" r="1.15" fill="#ff1a10"/><circle cx="213.45" cy="304.28" r="1.15"/><circle cx="213.75" cy="301.45" r="1.15" fill="#ff1a10"/><circle cx="214.05" cy="301.07" r="1.15"/><circle cx="214.35" cy="304.85" r="1.15"/><circle cx="214.65" cy="303.03" r="1.15" fill="#ff1a10"/><circle cx="214.95" cy="301.35" r="1.15"/><circle cx="215.25" cy="301.11" r="1.15"/><circle cx="215.55" cy="305.76" r="1.15" fill="#ff1a10"/><circle cx="215.85" cy="303.04" r="1.15" fill="#ff1a10"/><circle cx="216.15" cy="301.24" r="1.15"/><circle cx="216.45" cy="300.29" r="1.15"/><circle cx="216.75" cy="305.42" r="1.15" fill="#ff1a10"/><circle cx="217.05" cy="303.21" r="1.15"/><circle cx="217.35" cy="301.25" r="1.15" fill="#ff1a10"/><circle cx="217.65" cy="300.38" r="1.15" fill="#ff1a10"/><circle cx="217.95" cy="304.34" r="1.15"/><circle cx="218.25" cy="302.17" r="1.15" fill="#ff1a10"/><circle cx="218.55" cy="300.40" r="1.15"/><circle cx="218.85" cy="305.58" r="1.15"/><circle cx="219.15" cy="303.15" r="1.15"/><circle cx="219.45" cy="302.27" r="1.15" fill="#ff1a10"/><circle cx="219.75" cy="299.02" r="1.15" fill="#ff1a10"/><circle cx="220.05" cy="303.89" r="1.15" fill="#ff1a10"/><circle cx="220.35" cy="303.41" r="1.15"/><circle cx="220.65" cy="301.42" r="1.15" fill="#ff1a10"/><circle cx="220.95" cy="300.08" r="1.15"/><circle cx="221.25" cy="299.02" r="1.15" fill="#ff1a10"/><circle cx="221.55" cy="305.04" r="1.15" fill="#ff1a10"/><circle cx="221.85" cy="302.93" r="1.15" fill="#ff1a10"/><circle cx="222.15" cy="301.66" r="1.15"/><circle cx="222.45" cy="299.64" r="1.15"/><circle cx="222.75" cy="303.59" r="1.15"/><circle cx="223.05" cy="301.79" r="1.15"/><circle cx="223.35" cy="301.74" r="1.15" fill="#ff1a10"/><circle cx="223.65" cy="300.01" r="1.15"/><circle cx="223.95" cy="300.20" r="1.15" fill="#ff1a10"/><circle cx="224.25" cy="303.66" r="1.15"/><circle cx="224.55" cy="302.64" r="1.15"/><circle cx="224.85" cy="300.63" r="1.15"/><circle cx="225.15" cy="299.81" r="1.15"/><circle cx="225.45" cy="303.34" r="1.15" fill="#ff1a10"/><circle cx="225.75" cy="302.09" r="1.15"/><circle cx="226.05" cy="301.67" r="1.15" fill="#ff1a10"/><circle cx="226.35" cy="299.87" r="1.15"/><circle cx="226.65" cy="303.58" r="1.15" fill="#ff1a10"/><circle cx="226.95" cy="303.10" r="1.15" fill="#ff1a10"/><circle cx="227.25" cy="301.54" r="1.15" fill="#ff1a10"/><circle cx="227.55" cy="299.91" r="1.15"/><circle cx="227.85" cy="304.50" r="1.15"/><circle cx="228.15" cy="302.00" r="1.15" fill="#ff1a10"/><circle cx="228.45" cy="301.55" r="1.15"/><circle cx="228.75" cy="300.47" r="1.15"/><circle cx="229.05" cy="304.67" r="1.15"/><circle cx="229.35" cy="302.45" r="1.15"/><circle cx="229.65" cy="300.43" r="1.15" fill="#ff1a10"/><circle cx="229.95" cy="300.30" r="1.15" fill="#ff1a10"/><circle cx="230.25" cy="305.36" r="1.15"/><circle cx="230.55" cy="303.88" r="1.15" fill="#ff1a10"/><circle cx="230.85" cy="300.80" r="1.15" fill="#ff1a10"/><circle cx="231.15" cy="300.40" r="1.15" fill="#ff1a10"/><circle cx="231.45" cy="304.88" r="1.15" fill="#ff1a10"/><circle cx="231.75" cy="303.03" r="1.15" fill="#ff1a10"/><circle cx="232.05" cy="302.61" r="1.15"/><circle cx="232.35" cy="300.85" r="1.15"/><circle cx="232.65" cy="302.94" r="1.15" fill="#ff1a10"/><circle cx="232.95" cy="301.64" r="1.15"/><circle cx="233.25" cy="299.86" r="1.15"/><circle cx="233.55" cy="304.47" r="1.15" fill="#ff1a10"/><circle cx="233.85" cy="304.20" r="1.15"/><circle cx="234.15" cy="302.26" r="1.15" fill="#ff1a10"/><circle cx="234.45" cy="302.29" r="1.15" fill="#ff1a10"/><circle cx="234.75" cy="305.80" r="1.15"/><circle cx="235.05" cy="304.59" r="1.15" fill="#ff1a10"/><circle cx="235.35" cy="304.08" r="1.15"/><circle cx="235.65" cy="301.47" r="1.15" fill="#ff1a10"/><circle cx="235.95" cy="306.57" r="1.15"/><circle cx="236.25" cy="305.48" r="1.15" fill="#ff1a10"/><circle cx="236.55" cy="304.31" r="1.15"/><circle cx="236.85" cy="302.95" r="1.15"/><circle cx="237.15" cy="303.35" r="1.15" fill="#ff1a10"/><circle cx="237.45" cy="305.89" r="1.15"/><circle cx="237.75" cy="304.78" r="1.15"/><circle cx="238.05" cy="309.04" r="1.15" fill="#ff1a10"/><circle cx="238.35" cy="307.95" r="1.15" fill="#ff1a10"/><circle cx="238.65" cy="307.82" r="1.15" fill="#ff1a10"/><circle cx="238.95" cy="306.88" r="1.15"/><circle cx="239.25" cy="310.73" r="1.15" fill="#ff1a10"/><circle cx="239.55" cy="309.56" r="1.15" fill="#ff1a10"/><circle cx="239.85" cy="308.64" r="1.15" fill="#ff1a10"/><circle cx="240.15" cy="307.99" r="1.15"/><circle cx="240.45" cy="311.73" r="1.15"/><circle cx="240.75" cy="311.23" r="1.15" fill="#ff1a10"/><circle cx="241.05" cy="310.40" r="1.15"/><circle cx="241.35" cy="310.84" r="1.15" fill="#ff1a10"/><circle cx="241.65" cy="314.86" r="1.15"/><circle cx="241.95" cy="313.71" r="1.15" fill="#ff1a10"/><circle cx="242.25" cy="313.16" r="1.15" fill="#ff1a10"/><circle cx="242.55" cy="311.51" r="1.15"/><circle cx="242.85" cy="316.15" r="1.15"/><circle cx="243.15" cy="314.60" r="1.15" fill="#ff1a10"/><circle cx="243.45" cy="314.05" r="1.15" fill="#ff1a10"/><circle cx="243.75" cy="313.74" r="1.15" fill="#ff1a10"/><circle cx="244.05" cy="315.58" r="1.15"/><circle cx="244.35" cy="315.34" r="1.15" fill="#ff1a10"/><circle cx="244.65" cy="316.83" r="1.15"/><circle cx="244.95" cy="316.42" r="1.15"/><circle cx="245.25" cy="319.55" r="1.15" fill="#ff1a10"/><circle cx="245.55" cy="318.55" r="1.15" fill="#ff1a10"/><circle cx="245.85" cy="318.23" r="1.15" fill="#ff1a10"/><circle cx="246.15" cy="318.09" r="1.15"/><circle cx="246.45" cy="317.80" r="1.15" fill="#ff1a10"/><circle cx="246.75" cy="322.22" r="1.15"/><circle cx="247.05" cy="322.51" r="1.15" fill="#ff1a10"/><circle cx="247.35" cy="321.43" r="1.15" fill="#ff1a10"/><circle cx="247.65" cy="321.04" r="1.15"/><circle cx="247.95" cy="323.52" r="1.15"/><circle cx="248.25" cy="322.13" r="1.15" fill="#ff1a10"/><circle cx="248.55" cy="322.42" r="1.15" fill="#ff1a10"/><circle cx="248.85" cy="324.13" r="1.15"/><circle cx="249.15" cy="324.17" r="1.15" fill="#ff1a10"/><circle cx="249.45" cy="328.48" r="1.15" fill="#ff1a10"/><circle cx="249.75" cy="326.86" r="1.15" fill="#ff1a10"/><circle cx="250.05" cy="325.84" r="1.15" fill="#ff1a10"/><circle cx="250.35" cy="324.89" r="1.15"/><circle cx="250.65" cy="330.14" r="1.15" fill="#ff1a10"/><circle cx="250.95" cy="330.13" r="1.15" fill="#ff1a10"/><circle cx="251.25" cy="329.01" r="1.15" fill="#ff1a10"/><circle cx="251.55" cy="328.25" r="1.15" fill="#ff1a10"/><circle cx="251.85" cy="331.96" r="1.15"/><circle cx="252.15" cy="331.73" r="1.15"/><circle cx="252.45" cy="330.48" r="1.15" fill="#ff1a10"/><circle cx="252.75" cy="329.33" r="1.15"/><circle cx="253.05" cy="334.48" r="1.15"/><circle cx="253.35" cy="334.95" r="1.15" fill="#ff1a10"/><circle cx="253.65" cy="333.14" r="1.15"/><circle cx="253.95" cy="331.96" r="1.15" fill="#ff1a10"/><circle cx="254.25" cy="336.30" r="1.15" fill="#ff1a10"/><circle cx="254.55" cy="335.98" r="1.15" fill="#ff1a10"/><circle cx="254.85" cy="334.99" r="1.15"/><circle cx="255.15" cy="333.67" r="1.15"/><circle cx="255.45" cy="339.78" r="1.15" fill="#ff1a10"/><circle cx="255.75" cy="338.69" r="1.15"/><circle cx="256.05" cy="337.19" r="1.15" fill="#ff1a10"/><circle cx="256.35" cy="337.46" r="1.15" fill="#ff1a10"/><circle cx="256.65" cy="341.86" r="1.15" fill="#ff1a10"/><circle cx="256.95" cy="339.97" r="1.15" fill="#ff1a10"/><circle cx="257.25" cy="339.34" r="1.15" fill="#ff1a10"/><circle cx="257.55" cy="338.68" r="1.15"/><circle cx="257.85" cy="339.72" r="1.15" fill="#ff1a10"/><circle cx="258.15" cy="343.14" r="1.15"/><circle cx="258.45" cy="343.11" r="1.15" fill="#ff1a10"/><circle cx="258.75" cy="342.13" r="1.15"/><circle cx="259.05" cy="341.56" r="1.15" fill="#ff1a10"/><circle cx="259.35" cy="346.79" r="1.15" fill="#ff1a10"/><circle cx="259.65" cy="344.90" r="1.15" fill="#ff1a10"/><circle cx="259.95" cy="345.06" r="1.15" fill="#ff1a10"/><circle cx="260.25" cy="343.44" r="1.15" fill="#ff1a10"/><circle cx="260.55" cy="348.06" r="1.15" fill="#ff1a10"/><circle cx="260.85" cy="347.06" r="1.15" fill="#ff1a10"/><circle cx="261.15" cy="345.19" r="1.15" fill="#ff1a10"/><circle cx="261.45" cy="345.33" r="1.15" fill="#ff1a10"/><circle cx="261.75" cy="348.80" r="1.15" fill="#ff1a10"/><circle cx="262.05" cy="347.79" r="1.15" fill="#ff1a10"/><circle cx="262.35" cy="347.56" r="1.15"/><circle cx="262.65" cy="353.06" r="1.15" fill="#ff1a10"/><circle cx="262.95" cy="352.47" r="1.15" fill="#ff1a10"/><circle cx="263.25" cy="349.28" r="1.15" fill="#ff1a10"/><circle cx="263.55" cy="348.76" r="1.15" fill="#ff1a10"/><circle cx="263.85" cy="350.67" r="1.15" fill="#ff1a10"/><circle cx="264.15" cy="349.89" r="1.15" fill="#ff1a10"/><circle cx="264.45" cy="349.61" r="1.15" fill="#ff1a10"/><circle cx="264.75" cy="355.05" r="1.15" fill="#ff1a10"/><circle cx="265.05" cy="354.60" r="1.15" fill="#ff1a10"/><circle cx="265.35" cy="351.76" r="1.15" fill="#ff1a10"/><circle cx="265.65" cy="349.59" r="1.15" fill="#ff1a10"/><circle cx="265.95" cy="355.50" r="1.15" fill="#ff1a10"/><circle cx="266.25" cy="355.12" r="1.15"/><circle cx="266.55" cy="353.94" r="1.15" fill="#ff1a10"/><circle cx="266.85" cy="350.57" r="1.15"/><circle cx="267.15" cy="356.73" r="1.15" fill="#ff1a10"/><circle cx="267.45" cy="354.57" r="1.15" fill="#ff1a10"/><circle cx="267.75" cy="353.25" r="1.15" fill="#ff1a10"/><circle cx="268.05" cy="352.07" r="1.15" fill="#ff1a10"/><circle cx="268.35" cy="350.63" r="1.15" fill="#ff1a10"/><circle cx="268.65" cy="358.03" r="1.15" fill="#ff1a10"/><circle cx="268.95" cy="356.28" r="1.15" fill="#ff1a10"/><circle cx="269.25" cy="353.65" r="1.15" fill="#ff1a10"/><circle cx="269.55" cy="351.92" r="1.15" fill="#ff1a10"/><circle cx="269.85" cy="357.88" r="1.15"/><circle cx="270.15" cy="355.67" r="1.15" fill="#ff1a10"/><circle cx="270.45" cy="354.34" r="1.15" fill="#ff1a10"/><circle cx="270.75" cy="352.34" r="1.15" fill="#ff1a10"/><circle cx="271.05" cy="357.32" r="1.15" fill="#ff1a10"/><circle cx="271.35" cy="356.81" r="1.15" fill="#ff1a10"/><circle cx="271.65" cy="353.09" r="1.15"/><circle cx="271.95" cy="352.95" r="1.15" fill="#ff1a10"/><circle cx="272.25" cy="358.29" r="1.15" fill="#ff1a10"/><circle cx="272.55" cy="356.35" r="1.15" fill="#ff1a10"/><circle cx="272.85" cy="352.99" r="1.15" fill="#ff1a10"/><circle cx="273.15" cy="350.21" r="1.15" fill="#ff1a10"/><circle cx="273.45" cy="353.39" r="1.15" fill="#ff1a10"/><circle cx="273.75" cy="351.63" r="1.15" fill="#ff1a10"/><circle cx="274.05" cy="354.80" r="1.15"/><circle cx="274.35" cy="354.33" r="1.15" fill="#ff1a10"/><circle cx="274.65" cy="351.92" r="1.15" fill="#ff1a10"/><circle cx="274.95" cy="348.28" r="1.15" fill="#ff1a10"/><circle cx="275.25" cy="355.31" r="1.15" fill="#ff1a10"/><circle cx="275.55" cy="353.27" r="1.15" fill="#ff1a10"/><circle cx="275.85" cy="350.95" r="1.15" fill="#ff1a10"/><circle cx="276.15" cy="348.42" r="1.15" fill="#ff1a10"/><circle cx="276.45" cy="349.20" r="1.15" fill="#ff1a10"/><circle cx="276.75" cy="347.05" r="1.15"/><circle cx="277.05" cy="347.67" r="1.15" fill="#ff1a10"/><circle cx="277.35" cy="353.86" r="1.15" fill="#ff1a10"/><circle cx="277.65" cy="350.43" r="1.15"/><circle cx="277.95" cy="349.45" r="1.15" fill="#ff1a10"/><circle cx="278.25" cy="346.55" r="1.15" fill="#ff1a10"/><circle cx="278.55" cy="350.62" r="1.15" fill="#ff1a10"/><circle cx="278.85" cy="348.55" r="1.15" fill="#ff1a10"/><circle cx="279.15" cy="347.38" r="1.15" fill="#ff1a10"/><circle cx="279.45" cy="344.67" r="1.15" fill="#ff1a10"/><circle cx="279.75" cy="350.46" r="1.15" fill="#ff1a10"/><circle cx="280.05" cy="348.93" r="1.15" fill="#ff1a10"/><circle cx="280.35" cy="345.18" r="1.15" fill="#ff1a10"/><circle cx="280.65" cy="343.46" r="1.15" fill="#ff1a10"/><circle cx="280.95" cy="348.58" r="1.15" fill="#ff1a10"/><circle cx="281.25" cy="347.12" r="1.15" fill="#ff1a10"/><circle cx="281.55" cy="345.21" r="1.15" fill="#ff1a10"/><circle cx="281.85" cy="343.26" r="1.15" fill="#ff1a10"/><circle cx="282.15" cy="346.92" r="1.15"/><circle cx="282.45" cy="344.64" r="1.15" fill="#ff1a10"/><circle cx="282.75" cy="343.05" r="1.15" fill="#ff1a10"/><circle cx="283.05" cy="341.35" r="1.15" fill="#ff1a10"/><circle cx="283.35" cy="341.81" r="1.15" fill="#ff1a10"/><circle cx="283.65" cy="340.63" r="1.15" fill="#ff1a10"/><circle cx="283.95" cy="344.84" r="1.15" fill="#ff1a10"/><circle cx="284.25" cy="343.37" r="1.15" fill="#ff1a10"/><circle cx="284.55" cy="340.61" r="1.15" fill="#ff1a10"/><circle cx="284.85" cy="340.47" r="1.15" fill="#ff1a10"/><circle cx="285.15" cy="342.60" r="1.15"/><circle cx="285.45" cy="342.14" r="1.15" fill="#ff1a10"/><circle cx="285.75" cy="340.06" r="1.15" fill="#ff1a10"/><circle cx="286.05" cy="338.20" r="1.15" fill="#ff1a10"/><circle cx="286.35" cy="341.27" r="1.15" fill="#ff1a10"/><circle cx="286.65" cy="340.22" r="1.15" fill="#ff1a10"/><circle cx="286.95" cy="339.34" r="1.15"/><circle cx="287.25" cy="336.87" r="1.15" fill="#ff1a10"/><circle cx="287.55" cy="340.58" r="1.15" fill="#ff1a10"/><circle cx="287.85" cy="339.02" r="1.15" fill="#ff1a10"/><circle cx="288.15" cy="336.98" r="1.15" fill="#ff1a10"/><circle cx="288.45" cy="336.92" r="1.15" fill="#ff1a10"/><circle cx="288.75" cy="338.79" r="1.15" fill="#ff1a10"/><circle cx="289.05" cy="336.96" r="1.15" fill="#ff1a10"/><circle cx="289.35" cy="336.12" r="1.15" fill="#ff1a10"/><circle cx="289.65" cy="335.09" r="1.15" fill="#ff1a10"/><circle cx="289.95" cy="336.89" r="1.15" fill="#ff1a10"/><circle cx="290.25" cy="336.72" r="1.15"/><circle cx="290.55" cy="335.35" r="1.15" fill="#ff1a10"/><circle cx="290.85" cy="334.24" r="1.15" fill="#ff1a10"/><circle cx="291.15" cy="336.10" r="1.15" fill="#ff1a10"/><circle cx="291.45" cy="334.85" r="1.15"/><circle cx="291.75" cy="333.56" r="1.15" fill="#ff1a10"/><circle cx="292.05" cy="332.85" r="1.15" fill="#ff1a10"/><circle cx="292.35" cy="335.22" r="1.15" fill="#ff1a10"/><circle cx="292.65" cy="333.64" r="1.15" fill="#ff1a10"/><circle cx="292.95" cy="332.84" r="1.15"/><circle cx="293.25" cy="332.56" r="1.15" fill="#ff1a10"/><circle cx="293.55" cy="333.04" r="1.15" fill="#ff1a10"/><circle cx="293.85" cy="331.58" r="1.15" fill="#ff1a10"/><circle cx="294.15" cy="333.55" r="1.15" fill="#ff1a10"/><circle cx="294.45" cy="333.02" r="1.15" fill="#ff1a10"/><circle cx="294.75" cy="331.72" r="1.15" fill="#ff1a10"/><circle cx="295.05" cy="330.77" r="1.15" fill="#ff1a10"/><circle cx="295.35" cy="330.59" r="1.15" fill="#ff1a10"/><circle cx="295.65" cy="332.28" r="1.15" fill="#ff1a10"/><circle cx="295.95" cy="331.35" r="1.15" fill="#ff1a10"/><circle cx="296.25" cy="331.02" r="1.15" fill="#ff1a10"/><circle cx="296.55" cy="330.35" r="1.15" fill="#ff1a10"/><circle cx="296.85" cy="331.66" r="1.15" fill="#ff1a10"/><circle cx="297.15" cy="330.64" r="1.15" fill="#ff1a10"/><circle cx="297.45" cy="330.40" r="1.15" fill="#ff1a10"/><circle cx="297.75" cy="329.60" r="1.15" fill="#ff1a10"/><circle cx="298.05" cy="331.12" r="1.15" fill="#ff1a10"/><circle cx="298.35" cy="330.23" r="1.15" fill="#ff1a10"/><circle cx="298.65" cy="329.82" r="1.15" fill="#ff1a10"/><circle cx="298.95" cy="328.99" r="1.15" fill="#ff1a10"/><circle cx="299.25" cy="330.55" r="1.15" fill="#ff1a10"/><circle cx="299.55" cy="329.91" r="1.15" fill="#ff1a10"/><circle cx="299.85" cy="329.22" r="1.15" fill="#ff1a10"/><circle cx="300.15" cy="328.33" r="1.15" fill="#ff1a10"/><circle cx="300.45" cy="329.48" r="1.15" fill="#ff1a10"/><circle cx="300.75" cy="329.30" r="1.15" fill="#ff1a10"/><circle cx="301.05" cy="328.60" r="1.15" fill="#ff1a10"/><circle cx="301.35" cy="328.39" r="1.15" fill="#ff1a10"/><circle cx="301.65" cy="329.24" r="1.15" fill="#ff1a10"/><circle cx="301.95" cy="328.68" r="1.15" fill="#ff1a10"/><circle cx="302.25" cy="328.29" r="1.15" fill="#ff1a10"/><circle cx="302.55" cy="328.02" r="1.15" fill="#ff1a10"/><circle cx="302.85" cy="328.29" r="1.15" fill="#ff1a10"/><circle cx="303.15" cy="327.88" r="1.15" fill="#ff1a10"/><circle cx="303.45" cy="327.56" r="1.15" fill="#ff1a10"/><circle cx="303.75" cy="328.71" r="1.15"/><circle cx="304.05" cy="328.36" r="1.15" fill="#ff1a10"/><circle cx="304.35" cy="327.67" r="1.15" fill="#ff1a10"/><circle cx="304.65" cy="327.45" r="1.15" fill="#ff1a10"/><circle cx="304.95" cy="328.23" r="1.15" fill="#ff1a10"/><circle cx="305.25" cy="328.07" r="1.15" fill="#ff1a10"/><circle cx="305.55" cy="327.65" r="1.15" fill="#ff1a10"/><circle cx="305.85" cy="327.16" r="1.15" fill="#ff1a10"/><circle cx="306.15" cy="327.99" r="1.15" fill="#ff1a10"/><circle cx="306.45" cy="327.50" r="1.15" fill="#ff1a10"/><circle cx="306.75" cy="327.41" r="1.15" fill="#ff1a10"/><circle cx="307.05" cy="327.05" r="1.15" fill="#ff1a10"/><circle cx="307.35" cy="327.57" r="1.15" fill="#ff1a10"/><circle cx="307.65" cy="327.44" r="1.15" fill="#ff1a10"/><circle cx="307.95" cy="327.17" r="1.15" fill="#ff1a10"/><circle cx="308.25" cy="326.57" r="1.15"/><circle cx="308.55" cy="327.32" r="1.15" fill="#ff1a10"/><circle cx="308.85" cy="326.74" r="1.15" fill="#ff1a10"/><circle cx="309.15" cy="326.57" r="1.15" fill="#ff1a10"/><circle cx="309.45" cy="327.44" r="1.15" fill="#ff1a10"/><circle cx="309.75" cy="327.10" r="1.15"/><circle cx="310.05" cy="326.62" r="1.15" fill="#ff1a10"/><circle cx="310.35" cy="326.59" r="1.15"/><circle cx="310.65" cy="327.08" r="1.15" fill="#ff1a10"/><circle cx="310.95" cy="326.77" r="1.15" fill="#ff1a10"/><circle cx="311.25" cy="326.51" r="1.15" fill="#ff1a10"/><circle cx="311.55" cy="326.35" r="1.15" fill="#ff1a10"/><circle cx="311.85" cy="326.98" r="1.15" fill="#ff1a10"/><circle cx="312.15" cy="326.66" r="1.15" fill="#ff1a10"/><circle cx="312.45" cy="326.43" r="1.15" fill="#ff1a10"/><circle cx="312.75" cy="326.32" r="1.15" fill="#ff1a10"/><circle cx="313.05" cy="326.83" r="1.15" fill="#ff1a10"/><circle cx="313.35" cy="326.59" r="1.15" fill="#ff1a10"/><circle cx="313.65" cy="326.30" r="1.15" fill="#ff1a10"/><circle cx="313.95" cy="326.27" r="1.15" fill="#ff1a10"/><circle cx="314.25" cy="326.25" r="1.15" fill="#ff1a10"/><circle cx="314.55" cy="326.12" r="1.15" fill="#ff1a10"/><circle cx="314.85" cy="326.65" r="1.15" fill="#ff1a10"/><circle cx="315.15" cy="326.44" r="1.15" fill="#ff1a10"/><circle cx="315.45" cy="326.28" r="1.15" fill="#ff1a10"/><circle cx="315.75" cy="326.17" r="1.15" fill="#ff1a10"/><circle cx="316.05" cy="326.42" r="1.15" fill="#ff1a10"/><circle cx="316.35" cy="326.38" r="1.15" fill="#ff1a10"/><circle cx="316.65" cy="326.19" r="1.15"/><circle cx="316.95" cy="325.99" r="1.15" fill="#ff1a10"/><circle cx="317.25" cy="325.98" r="1.15" fill="#ff1a10"/><circle cx="317.55" cy="326.34" r="1.15" fill="#ff1a10"/><circle cx="317.85" cy="326.23" r="1.15"/><circle cx="318.15" cy="326.06" r="1.15" fill="#ff1a10"/><circle cx="318.45" cy="325.94" r="1.15" fill="#ff1a10"/><circle cx="318.75" cy="326.27" r="1.15" fill="#ff1a10"/><circle cx="319.05" cy="326.16" r="1.15" fill="#ff1a10"/><circle cx="319.35" cy="325.99" r="1.15" fill="#ff1a10"/><circle cx="319.65" cy="325.91" r="1.15" fill="#ff1a10"/><circle cx="319.95" cy="326.08" r="1.15" fill="#ff1a10"/><circle cx="320.25" cy="326.01" r="1.15" fill="#ff1a10"/><circle cx="320.55" cy="325.85" r="1.15" fill="#ff1a10"/><circle cx="320.85" cy="326.09" r="1.15" fill="#ff1a10"/><circle cx="321.15" cy="326.00" r="1.15" fill="#ff1a10"/><circle cx="321.45" cy="325.89" r="1.15" fill="#ff1a10"/><circle cx="321.75" cy="325.84" r="1.15" fill="#ff1a10"/><circle cx="322.05" cy="326.04" r="1.15"/><circle cx="322.35" cy="325.94" r="1.15" fill="#ff1a10"/><circle cx="322.65" cy="325.91" r="1.15" fill="#ff1a10"/><circle cx="322.95" cy="325.77" r="1.15" fill="#ff1a10"/><circle cx="323.25" cy="325.92" r="1.15" fill="#ff1a10"/><circle cx="323.55" cy="325.89" r="1.15" fill="#ff1a10"/><circle cx="323.85" cy="325.81" r="1.15" fill="#ff1a10"/><circle cx="324.15" cy="325.68" r="1.15" fill="#ff1a10"/><circle cx="324.45" cy="325.68" r="1.15" fill="#ff1a10"/><circle cx="324.75" cy="325.86" r="1.15" fill="#ff1a10"/><circle cx="325.05" cy="325.80" r="1.15" fill="#ff1a10"/><circle cx="325.35" cy="325.71" r="1.15" fill="#ff1a10"/><circle cx="325.65" cy="325.62" r="1.15" fill="#ff1a10"/><circle cx="325.95" cy="325.76" r="1.15" fill="#ff1a10"/><circle cx="326.25" cy="325.66" r="1.15" fill="#ff1a10"/><circle cx="326.55" cy="325.64" r="1.15" fill="#ff1a10"/><circle cx="326.85" cy="325.52" r="1.15" fill="#ff1a10"/><circle cx="327.15" cy="325.59" r="1.15" fill="#ff1a10"/><circle cx="327.45" cy="325.50" r="1.15" fill="#ff1a10"/><circle cx="327.75" cy="325.45" r="1.15" fill="#ff1a10"/><circle cx="328.05" cy="325.64" r="1.15"/><circle cx="328.35" cy="325.60" r="1.15" fill="#ff1a10"/><circle cx="328.65" cy="325.46" r="1.15" fill="#ff1a10"/><circle cx="328.95" cy="325.42" r="1.15" fill="#ff1a10"/><circle cx="329.25" cy="325.60" r="1.15" fill="#ff1a10"/><circle cx="329.55" cy="325.52" r="1.15" fill="#ff1a10"/><circle cx="329.85" cy="325.40" r="1.15" fill="#ff1a10"/><circle cx="330.15" cy="325.34" r="1.15" fill="#ff1a10"/><circle cx="330.45" cy="325.46" r="1.15" fill="#ff1a10"/><circle cx="330.75" cy="325.43" r="1.15" fill="#ff1a10"/><circle cx="331.05" cy="325.33" r="1.15" fill="#ff1a10"/><circle cx="331.35" cy="325.32" r="1.15"/><circle cx="331.65" cy="325.41" r="1.15" fill="#ff1a10"/><circle cx="331.95" cy="325.34" r="1.15" fill="#ff1a10"/><circle cx="332.25" cy="325.29" r="1.15" fill="#ff1a10"/><circle cx="332.55" cy="325.26" r="1.15" fill="#ff1a10"/><circle cx="332.85" cy="325.36" r="1.15"/><circle cx="333.15" cy="325.26" r="1.15" fill="#ff1a10"/><circle cx="333.45" cy="325.23" r="1.15" fill="#ff1a10"/><circle cx="333.75" cy="325.32" r="1.15" fill="#ff1a10"/><circle cx="334.05" cy="325.25" r="1.15" fill="#ff1a10"/><circle cx="334.35" cy="325.17" r="1.15" fill="#ff1a10"/><circle cx="334.65" cy="325.32" r="1.15" fill="#ff1a10"/><circle cx="334.95" cy="325.25" r="1.15" fill="#ff1a10"/><circle cx="335.25" cy="325.23" r="1.15" fill="#ff1a10"/><circle cx="335.55" cy="325.19" r="1.15" fill="#ff1a10"/><circle cx="335.85" cy="325.27" r="1.15" fill="#ff1a10"/><circle cx="336.15" cy="325.25" r="1.15" fill="#ff1a10"/><circle cx="336.45" cy="325.19" r="1.15"/><circle cx="336.75" cy="325.14" r="1.15" fill="#ff1a10"/><circle cx="337.05" cy="325.24" r="1.15" fill="#ff1a10"/><circle cx="337.35" cy="325.20" r="1.15" fill="#ff1a10"/><circle cx="337.65" cy="325.14" r="1.15" fill="#ff1a10"/><circle cx="337.95" cy="325.13" r="1.15" fill="#ff1a10"/><circle cx="338.25" cy="325.20" r="1.15" fill="#ff1a10"/><circle cx="338.55" cy="325.17" r="1.15" fill="#ff1a10"/><circle cx="338.85" cy="325.13" r="1.15" fill="#ff1a10"/><circle cx="339.15" cy="325.10" r="1.15" fill="#ff1a10"/><circle cx="339.45" cy="325.12" r="1.15" fill="#ff1a10"/><circle cx="339.75" cy="325.08" r="1.15" fill="#ff1a10"/><circle cx="340.05" cy="325.15" r="1.15" fill="#ff1a10"/><circle cx="340.35" cy="325.14" r="1.15" fill="#ff1a10"/><circle cx="340.65" cy="325.11" r="1.15" fill="#ff1a10"/><circle cx="340.95" cy="325.06" r="1.15" fill="#ff1a10"/></g><rect x="52" y="4" width="2" height="378" fill="#777"/><line x1="52" y1="4.5" x2="342" y2="4.5" stroke="#1a1a1a" stroke-width="1"/><line x1="52" y1="129.5" x2="342" y2="129.5" stroke="#1a1a1a" stroke-width="1"/><line x1="52" y1="253.5" x2="342" y2="253.5" stroke="#1a1a1a" stroke-width="1"/><line x1="52" y1="378.5" x2="342" y2="378.5" stroke="#1a1a1a" stroke-width="1"/><line x1="341.5" y1="4" x2="341.5" y2="378.5" stroke="#1a1a1a" stroke-width="1"/><line x1="53" y1="115.5" x2="59" y2="115.5" stroke="#111" stroke-width="1"/><line x1="53" y1="88.5" x2="59" y2="88.5" stroke="#111" stroke-width="1"/><line x1="53" y1="60.5" x2="59" y2="60.5" stroke="#111" stroke-width="1"/><line x1="53" y1="32.5" x2="59" y2="32.5" stroke="#111" stroke-width="1"/><line x1="53" y1="4.5" x2="59" y2="4.5" stroke="#111" stroke-width="1"/><line x1="53" y1="102.5" x2="56" y2="102.5" stroke="#111" stroke-width="1"/><line x1="53" y1="74.5" x2="56" y2="74.5" stroke="#111" stroke-width="1"/><line x1="53" y1="46.5" x2="56" y2="46.5" stroke="#111" stroke-width="1"/><line x1="53" y1="18.5" x2="56" y2="18.5" stroke="#111" stroke-width="1"/><line x1="53" y1="147.5" x2="59" y2="147.5" stroke="#111" stroke-width="1"/><line x1="53" y1="193.5" x2="59" y2="193.5" stroke="#111" stroke-width="1"/><line x1="53" y1="240.5" x2="59" y2="240.5" stroke="#111" stroke-width="1"/><line x1="53" y1="170.5" x2="56" y2="170.5" stroke="#111" stroke-width="1"/><line x1="53" y1="217.5" x2="56" y2="217.5" stroke="#111" stroke-width="1"/><line x1="53" y1="280.5" x2="59" y2="280.5" stroke="#111" stroke-width="1"/><line x1="53" y1="325.5" x2="59" y2="325.5" stroke="#111" stroke-width="1"/><line x1="53" y1="369.5" x2="59" y2="369.5" stroke="#111" stroke-width="1"/><line x1="53" y1="258.5" x2="56" y2="258.5" stroke="#111" stroke-width="1"/><line x1="53" y1="302.5" x2="56" y2="302.5" stroke="#111" stroke-width="1"/><line x1="53" y1="347.5" x2="56" y2="347.5" stroke="#111" stroke-width="1"/><line x1="76.5" y1="129.5" x2="76.5" y2="133.0" stroke="#111" stroke-width="1"/><line x1="92.5" y1="129.5" x2="92.5" y2="133.0" stroke="#111" stroke-width="1"/><line x1="105.5" y1="129.5" x2="105.5" y2="133.0" stroke="#111" stroke-width="1"/><line x1="116.5" y1="129.5" x2="116.5" y2="133.0" stroke="#111" stroke-width="1"/><line x1="125.5" y1="129.5" x2="125.5" y2="133.0" stroke="#111" stroke-width="1"/><line x1="132.5" y1="129.5" x2="132.5" y2="133.0" stroke="#111" stroke-width="1"/><line x1="139.5" y1="129.5" x2="139.5" y2="133.0" stroke="#111" stroke-width="1"/><line x1="145.5" y1="129.5" x2="145.5" y2="136.5" stroke="#111" stroke-width="1"/><line x1="185.5" y1="129.5" x2="185.5" y2="133.0" stroke="#111" stroke-width="1"/><line x1="208.5" y1="129.5" x2="208.5" y2="133.0" stroke="#111" stroke-width="1"/><line x1="225.5" y1="129.5" x2="225.5" y2="133.0" stroke="#111" stroke-width="1"/><line x1="238.5" y1="129.5" x2="238.5" y2="133.0" stroke="#111" stroke-width="1"/><line x1="248.5" y1="129.5" x2="248.5" y2="133.0" stroke="#111" stroke-width="1"/><line x1="257.5" y1="129.5" x2="257.5" y2="133.0" stroke="#111" stroke-width="1"/><line x1="265.5" y1="129.5" x2="265.5" y2="133.0" stroke="#111" stroke-width="1"/><line x1="272.5" y1="129.5" x2="272.5" y2="133.0" stroke="#111" stroke-width="1"/><line x1="278.5" y1="129.5" x2="278.5" y2="136.5" stroke="#111" stroke-width="1"/><line x1="318.5" y1="129.5" x2="318.5" y2="133.0" stroke="#111" stroke-width="1"/><line x1="76.5" y1="253.5" x2="76.5" y2="257.0" stroke="#111" stroke-width="1"/><line x1="92.5" y1="253.5" x2="92.5" y2="257.0" stroke="#111" stroke-width="1"/><line x1="105.5" y1="253.5" x2="105.5" y2="257.0" stroke="#111" stroke-width="1"/><line x1="116.5" y1="253.5" x2="116.5" y2="257.0" stroke="#111" stroke-width="1"/><line x1="125.5" y1="253.5" x2="125.5" y2="257.0" stroke="#111" stroke-width="1"/><line x1="132.5" y1="253.5" x2="132.5" y2="257.0" stroke="#111" stroke-width="1"/><line x1="139.5" y1="253.5" x2="139.5" y2="257.0" stroke="#111" stroke-width="1"/><line x1="145.5" y1="253.5" x2="145.5" y2="260.5" stroke="#111" stroke-width="1"/><line x1="185.5" y1="253.5" x2="185.5" y2="257.0" stroke="#111" stroke-width="1"/><line x1="208.5" y1="253.5" x2="208.5" y2="257.0" stroke="#111" stroke-width="1"/><line x1="225.5" y1="253.5" x2="225.5" y2="257.0" stroke="#111" stroke-width="1"/><line x1="238.5" y1="253.5" x2="238.5" y2="257.0" stroke="#111" stroke-width="1"/><line x1="248.5" y1="253.5" x2="248.5" y2="257.0" stroke="#111" stroke-width="1"/><line x1="257.5" y1="253.5" x2="257.5" y2="257.0" stroke="#111" stroke-width="1"/><line x1="265.5" y1="253.5" x2="265.5" y2="257.0" stroke="#111" stroke-width="1"/><line x1="272.5" y1="253.5" x2="272.5" y2="257.0" stroke="#111" stroke-width="1"/><line x1="278.5" y1="253.5" x2="278.5" y2="260.5" stroke="#111" stroke-width="1"/><line x1="318.5" y1="253.5" x2="318.5" y2="257.0" stroke="#111" stroke-width="1"/><line x1="76.5" y1="378.5" x2="76.5" y2="382.0" stroke="#111" stroke-width="1"/><line x1="92.5" y1="378.5" x2="92.5" y2="382.0" stroke="#111" stroke-width="1"/><line x1="105.5" y1="378.5" x2="105.5" y2="382.0" stroke="#111" stroke-width="1"/><line x1="116.5" y1="378.5" x2="116.5" y2="382.0" stroke="#111" stroke-width="1"/><line x1="125.5" y1="378.5" x2="125.5" y2="382.0" stroke="#111" stroke-width="1"/><line x1="132.5" y1="378.5" x2="132.5" y2="382.0" stroke="#111" stroke-width="1"/><line x1="139.5" y1="378.5" x2="139.5" y2="382.0" stroke="#111" stroke-width="1"/><line x1="145.5" y1="378.5" x2="145.5" y2="385.5" stroke="#111" stroke-width="1"/><line x1="185.5" y1="378.5" x2="185.5" y2="382.0" stroke="#111" stroke-width="1"/><line x1="208.5" y1="378.5" x2="208.5" y2="382.0" stroke="#111" stroke-width="1"/><line x1="225.5" y1="378.5" x2="225.5" y2="382.0" stroke="#111" stroke-width="1"/><line x1="238.5" y1="378.5" x2="238.5" y2="382.0" stroke="#111" stroke-width="1"/><line x1="248.5" y1="378.5" x2="248.5" y2="382.0" stroke="#111" stroke-width="1"/><line x1="257.5" y1="378.5" x2="257.5" y2="382.0" stroke="#111" stroke-width="1"/><line x1="265.5" y1="378.5" x2="265.5" y2="382.0" stroke="#111" stroke-width="1"/><line x1="272.5" y1="378.5" x2="272.5" y2="382.0" stroke="#111" stroke-width="1"/><line x1="278.5" y1="378.5" x2="278.5" y2="385.5" stroke="#111" stroke-width="1"/><line x1="318.5" y1="378.5" x2="318.5" y2="382.0" stroke="#111" stroke-width="1"/><text transform="translate(47.00 119.80) scale(1 1.08)" font-size="12.7" fill="#000" stroke="#000" stroke-width="0.2" text-anchor="end" >0</text><text transform="translate(47.00 92.00) scale(1 1.08)" font-size="12.7" fill="#000" stroke="#000" stroke-width="0.2" text-anchor="end" >1</text><text transform="translate(47.00 64.20) scale(1 1.08)" font-size="12.7" fill="#000" stroke="#000" stroke-width="0.2" text-anchor="end" >2</text><text transform="translate(47.00 36.40) scale(1 1.08)" font-size="12.7" fill="#000" stroke="#000" stroke-width="0.2" text-anchor="end" >3</text><text transform="translate(47.00 8.60) scale(1 1.08)" font-size="12.7" fill="#000" stroke="#000" stroke-width="0.2" text-anchor="end" >4</text><text transform="translate(47.00 151.40) scale(1 1.08)" font-size="12.7" fill="#000" stroke="#000" stroke-width="0.2" text-anchor="end" >0.025</text><text transform="translate(47.00 197.80) scale(1 1.08)" font-size="12.7" fill="#000" stroke="#000" stroke-width="0.2" text-anchor="end" >0.000</text><text transform="translate(47.00 244.20) scale(1 1.08)" font-size="12.7" fill="#000" stroke="#000" stroke-width="0.2" text-anchor="end" >-0.025</text><text transform="translate(47.00 284.70) scale(1 1.08)" font-size="12.7" fill="#000" stroke="#000" stroke-width="0.2" text-anchor="end" >0.1</text><text transform="translate(47.00 329.00) scale(1 1.08)" font-size="12.7" fill="#000" stroke="#000" stroke-width="0.2" text-anchor="end" >0.0</text><text transform="translate(47.00 373.30) scale(1 1.08)" font-size="12.7" fill="#000" stroke="#000" stroke-width="0.2" text-anchor="end" >-0.1</text><text transform="translate(145.80 399.50) scale(1 1.08)" font-size="12.7" fill="#000" stroke="#000" stroke-width="0.2" text-anchor="middle" >10</text><text transform="translate(278.50 399.50) scale(1 1.08)" font-size="12.7" fill="#000" stroke="#000" stroke-width="0.2" text-anchor="middle" >100</text><text transform="translate(200.60 417.30) scale(1 1.08)" font-size="14.5" fill="#000" stroke="#000" stroke-width="0.2" text-anchor="middle" >T (K)</text><text transform="translate(338.00 20.30) scale(1 1.0)" font-size="12.8" fill="#000" stroke="#000" stroke-width="0.45" text-anchor="end" >(a)</text><text transform="translate(338.00 146.20) scale(1 1.0)" font-size="12.8" fill="#000" stroke="#000" stroke-width="0.45" text-anchor="end" >(b)</text><text transform="translate(338.00 270.40) scale(1 1.0)" font-size="12.8" fill="#000" stroke="#000" stroke-width="0.45" text-anchor="end" >(c)</text><text transform="translate(84.00 54.00) scale(1 1.08)" font-size="11.3" fill="#ff0000" stroke="#ff0000" stroke-width="0.2" text-anchor="start" >FC</text><text transform="translate(82.40 101.30) scale(1 1.08)" font-size="11.3" fill="#000" stroke="#000" stroke-width="0.2" text-anchor="start" >ZFC</text><text transform="translate(239.80 51.80) scale(1 1.08)" font-size="11.3" fill="#12127a" stroke="#12127a" stroke-width="0.2" text-anchor="start" >60 K</text><text transform="translate(84.00 182.90) scale(1 1.08)" font-size="11.3" fill="#000" stroke="#000" stroke-width="0.2" text-anchor="start" >ZFC</text><text transform="translate(181.50 192.60) scale(1 1.08)" font-size="11.3" fill="#12127a" stroke="#12127a" stroke-width="0.2" text-anchor="start" >24 K</text><text transform="translate(223.40 185.70) scale(1 1.08)" font-size="11.3" fill="#12127a" stroke="#12127a" stroke-width="0.2" text-anchor="start" >47 K</text><text transform="translate(298.00 248.00) scale(1 1.08)" font-size="11.3" fill="#12127a" stroke="#12127a" stroke-width="0.2" text-anchor="start" >97 K</text><text transform="translate(82.70 323.90) scale(1 1.08)" font-size="11.3" fill="#000" stroke="#000" stroke-width="0.2" text-anchor="start" >ZFC</text><text transform="translate(171.80 310.50) scale(1 1.08)" font-size="11.3" fill="#000" stroke="#000" stroke-width="0.2" text-anchor="start" >20 K</text><text transform="translate(219.10 276.30) scale(1 1.08)" font-size="11.3" fill="#000" stroke="#000" stroke-width="0.2" text-anchor="start" >41 K</text><text transform="translate(200.50 338.00) scale(1 1.08)" font-size="11.3" fill="#1a1aff" stroke="#1a1aff" stroke-width="0.2" text-anchor="start" >31 K</text><text transform="translate(291.70 372.10) scale(1 1.08)" font-size="11.3" fill="#000" stroke="#000" stroke-width="0.2" text-anchor="start" >87 K</text><line x1="199.6" y1="76" x2="199.60" y2="68.60" stroke="#555" stroke-width="1"/><polygon points="199.6,62 202.80,68.60 196.40,68.60" fill="#000"/><line x1="248.7" y1="39.8" x2="248.70" y2="28.80" stroke="#555" stroke-width="1"/><polygon points="248.7,22.2 251.90,28.80 245.50,28.80" fill="#000"/><line x1="193.8" y1="180.9" x2="193.80" y2="174.10" stroke="#555" stroke-width="1"/><polygon points="193.8,167.5 197.00,174.10 190.60,174.10" fill="#000"/><line x1="235.8" y1="174.4" x2="235.80" y2="168.20" stroke="#555" stroke-width="1"/><polygon points="235.8,161.6 239.00,168.20 232.60,168.20" fill="#000"/><line x1="294.4" y1="242.6" x2="284.98" y2="238.20" stroke="#555" stroke-width="1"/><polygon points="279,235.4 286.33,235.30 283.62,241.09" fill="#000"/><line x1="184" y1="299.5" x2="184.00" y2="292.30" stroke="#555" stroke-width="1"/><polygon points="184,285.7 187.20,292.30 180.80,292.30" fill="#000"/><line x1="226.5" y1="278.7" x2="226.50" y2="285.20" stroke="#555" stroke-width="1"/><polygon points="226.5,291.8 223.30,285.20 229.70,285.20" fill="#000"/><line x1="211.5" y1="325.2" x2="211.50" y2="317.70" stroke="#1a1aff" stroke-width="1"/><polygon points="211.5,311.1 214.70,317.70 208.30,317.70" fill="#1a1aff"/><line x1="287.7" y1="368.6" x2="280.15" y2="364.96" stroke="#555" stroke-width="1"/><polygon points="274.2,362.1 281.53,362.08 278.76,367.85" fill="#000"/><text transform="translate(25.2 98.4) rotate(-90)" font-size="13.95" stroke="#000" stroke-width="0.2">(emu/mol–Oe)</text><path d="M18.59,103.32 Q22.95,105.70 27.50,108.36" fill="none" stroke="#000" stroke-width="1.45" stroke-linecap="round"/><path d="M25.92,102.41 C27.60,102.34 27.90,104.16 26.51,105.14 L19.58,107.52" fill="none" stroke="#000" stroke-width="0.9" stroke-linecap="round"/><ellipse cx="18.99" cy="108.08" rx="0.89" ry="0.91" fill="#000"/><text transform="translate(8.9 244.3) rotate(-90)" font-size="12.8" stroke="#000" stroke-width="0.2">d(</text><path d="M3.44,227.96 Q7.40,230.00 11.54,232.28" fill="none" stroke="#000" stroke-width="1.25" stroke-linecap="round"/><path d="M10.10,227.18 C11.63,227.12 11.90,228.68 10.64,229.52 L4.34,231.56" fill="none" stroke="#000" stroke-width="0.8" stroke-linecap="round"/><ellipse cx="3.80" cy="232.04" rx="0.81" ry="0.78" fill="#000"/><text transform="translate(8.9 225.3) rotate(-90)" font-size="12.8" stroke="#000" stroke-width="0.2">T)/dT (emu/mol–Oe)</text><text transform="translate(20.9 371.2) rotate(-90)" font-size="13.4" stroke="#000" stroke-width="0.2">d</text><path d="M14.25,358.59 Q18.25,360.90 22.44,363.48" fill="none" stroke="#000" stroke-width="1.3" stroke-linecap="round"/><path d="M20.98,357.70 C22.53,357.64 22.80,359.40 21.53,360.36 L15.16,362.67" fill="none" stroke="#000" stroke-width="0.85" stroke-linecap="round"/><ellipse cx="14.61" cy="363.21" rx="0.82" ry="0.88" fill="#000"/><text transform="translate(20.9 358.2) rotate(-90)" font-size="13.4" stroke="#000" stroke-width="0.2">/dT (emu/mol–Oe)</text></svg></body></html>
